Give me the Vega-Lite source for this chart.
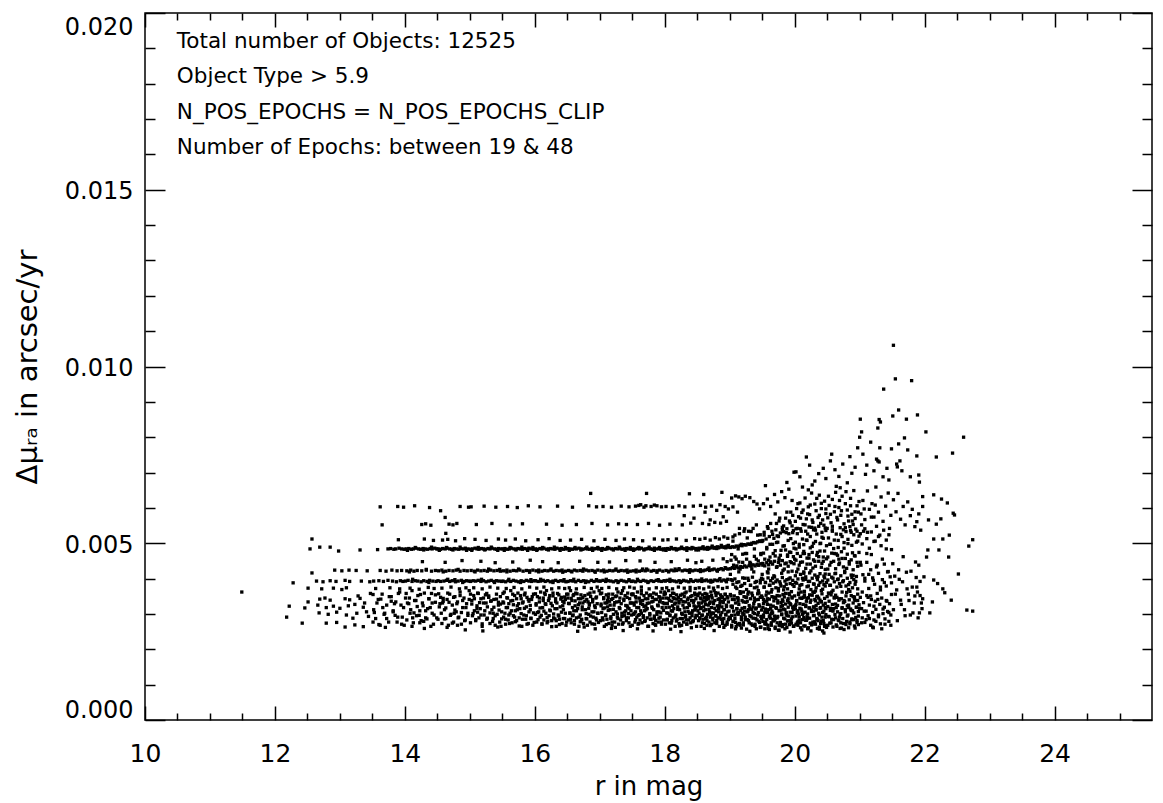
{
"$schema":"https://vega.github.io/schema/vega-lite/v6.json",
"width":1007,"height":707,
"autosize":"none",
"padding":{"left":145,"top":13,"right":11,"bottom":83},
"background":"white",
"config":{"view":{"stroke":"black","strokeWidth":1.5},"font":"DejaVu Sans"},
"datasets":{
"anchor":[{"r":10,"d":0}],
"pts":[
{"r":11.49,"d":0.00362},{"r":12.18,"d":0.00291},{"r":12.22,"d":0.00322},{"r":12.28,"d":0.00388},{"r":12.42,"d":0.00274},{"r":12.46,"d":0.00317},{"r":12.51,"d":0.00334},{"r":12.51,"d":0.00373},{"r":12.57,"d":0.00416},{"r":12.54,"d":0.00484},{"r":12.57,"d":0.00512},{"r":12.69,"d":0.00489},{"r":12.85,"d":0.00489},{"r":12.98,"d":0.00478},{"r":13.31,"d":0.00481},{"r":12.92,"d":0.00424},{"r":13.03,"d":0.00422},{"r":13.14,"d":0.00424},{"r":12.64,"d":0.00393},{"r":12.74,"d":0.00391},{"r":12.85,"d":0.00394},{"r":12.94,"d":0.00392},{"r":13.08,"d":0.00395},{"r":13.15,"d":0.00392},{"r":13.33,"d":0.00393},{"r":13.46,"d":0.00391},{"r":12.72,"d":0.00371},{"r":12.90,"d":0.00373},{"r":13.03,"d":0.00369},{"r":13.10,"d":0.00374},{"r":12.69,"d":0.00342},{"r":12.77,"d":0.00345},{"r":12.85,"d":0.00339},{"r":13.08,"d":0.00343},{"r":13.15,"d":0.00340},{"r":13.31,"d":0.00344},{"r":12.66,"d":0.00325},{"r":12.79,"d":0.00318},{"r":12.90,"d":0.00322},{"r":13.00,"d":0.00316},{"r":13.13,"d":0.00323},{"r":13.23,"d":0.00327},{"r":13.36,"d":0.00319},{"r":12.68,"d":0.00303},{"r":12.82,"d":0.00299},{"r":12.95,"d":0.00305},{"r":13.10,"d":0.00297},{"r":13.26,"d":0.00302},{"r":13.41,"d":0.00306},{"r":12.79,"d":0.00274},{"r":12.95,"d":0.00276},{"r":13.08,"d":0.00263},{"r":13.23,"d":0.00269},{"r":13.36,"d":0.00264},{"r":13.51,"d":0.00277},{"r":13.20,"d":0.00288},{"r":13.28,"d":0.00351},{"r":13.38,"d":0.00331},{"r":13.44,"d":0.00293},{"r":13.47,"d":0.00358},{"r":13.42,"d":0.00422},{"r":13.25,"d":0.00423},
{"r":13.62,"d":0.00603},{"r":13.89,"d":0.00604},{"r":13.98,"d":0.00602},{"r":13.65,"d":0.00552},{"r":13.90,"d":0.00510},{"r":13.74,"d":0.00484},{"r":13.78,"d":0.00485},{"r":13.83,"d":0.00483},{"r":13.86,"d":0.00484},{"r":13.91,"d":0.00486},{"r":13.95,"d":0.00484},{"r":13.99,"d":0.00483},{"r":13.58,"d":0.00482},{"r":13.62,"d":0.00423},{"r":13.71,"d":0.00421},{"r":13.80,"d":0.00424},{"r":13.88,"d":0.00422},{"r":13.95,"d":0.00423},{"r":13.52,"d":0.00393},{"r":13.60,"d":0.00394},{"r":13.67,"d":0.00392},{"r":13.74,"d":0.00395},{"r":13.81,"d":0.00393},{"r":13.87,"d":0.00391},{"r":13.93,"d":0.00394},{"r":13.97,"d":0.00392},{"r":13.55,"d":0.00372},{"r":13.77,"d":0.00374},{"r":13.92,"d":0.00371},{"r":13.51,"d":0.00355},{"r":13.57,"d":0.00331},{"r":13.63,"d":0.00342},{"r":13.66,"d":0.00318},{"r":13.69,"d":0.00302},{"r":13.72,"d":0.00287},{"r":13.76,"d":0.00349},{"r":13.79,"d":0.00336},{"r":13.82,"d":0.00309},{"r":13.85,"d":0.00296},{"r":13.88,"d":0.00277},{"r":13.90,"d":0.00358},{"r":13.94,"d":0.00325},{"r":13.96,"d":0.00291},{"r":13.99,"d":0.00268},{"r":13.60,"d":0.00270},{"r":13.70,"d":0.00262},{"r":13.84,"d":0.00329},{"r":13.53,"d":0.00304},
{"r":14.15,"d":0.00606},{"r":14.38,"d":0.00601},{"r":14.26,"d":0.00553},{"r":14.32,"d":0.00555},{"r":14.40,"d":0.00551},{"r":14.30,"d":0.00512},{"r":14.44,"d":0.00508},{"r":14.02,"d":0.00484},{"r":14.06,"d":0.00485},{"r":14.10,"d":0.00483},{"r":14.13,"d":0.00484},{"r":14.17,"d":0.00486},{"r":14.21,"d":0.00484},{"r":14.24,"d":0.00483},{"r":14.28,"d":0.00485},{"r":14.31,"d":0.00484},{"r":14.35,"d":0.00483},{"r":14.39,"d":0.00485},{"r":14.42,"d":0.00484},{"r":14.46,"d":0.00486},{"r":14.49,"d":0.00484},{"r":14.27,"d":0.00448},{"r":14.03,"d":0.00422},{"r":14.09,"d":0.00424},{"r":14.14,"d":0.00421},{"r":14.19,"d":0.00423},{"r":14.26,"d":0.00422},{"r":14.33,"d":0.00424},{"r":14.41,"d":0.00421},{"r":14.47,"d":0.00423},{"r":14.01,"d":0.00393},{"r":14.05,"d":0.00395},{"r":14.11,"d":0.00392},{"r":14.16,"d":0.00394},{"r":14.20,"d":0.00393},{"r":14.25,"d":0.00391},{"r":14.29,"d":0.00394},{"r":14.34,"d":0.00392},{"r":14.38,"d":0.00395},{"r":14.43,"d":0.00393},{"r":14.48,"d":0.00392},{"r":14.08,"d":0.00373},{"r":14.22,"d":0.00370},{"r":14.36,"d":0.00375},{"r":14.45,"d":0.00372},{"r":14.02,"d":0.00358},{"r":14.04,"d":0.00331},{"r":14.07,"d":0.00345},{"r":14.09,"d":0.00312},{"r":14.12,"d":0.00289},{"r":14.14,"d":0.00303},{"r":14.17,"d":0.00338},{"r":14.19,"d":0.00321},{"r":14.22,"d":0.00296},{"r":14.24,"d":0.00355},{"r":14.27,"d":0.00331},{"r":14.29,"d":0.00279},{"r":14.32,"d":0.00309},{"r":14.34,"d":0.00286},{"r":14.37,"d":0.00343},{"r":14.39,"d":0.00318},{"r":14.42,"d":0.00302},{"r":14.44,"d":0.00271},{"r":14.47,"d":0.00333},{"r":14.49,"d":0.00289},{"r":14.11,"d":0.00265},{"r":14.30,"d":0.00259},{"r":14.41,"d":0.00358},{"r":14.23,"d":0.00275},
{"r":14.85,"d":0.00604},{"r":14.98,"d":0.00602},{"r":14.55,"d":0.00592},{"r":14.62,"d":0.00573},{"r":14.63,"d":0.00528},{"r":14.68,"d":0.00554},{"r":14.74,"d":0.00552},{"r":14.80,"d":0.00556},{"r":14.58,"d":0.00509},{"r":14.66,"d":0.00511},{"r":14.78,"d":0.00507},{"r":14.92,"d":0.00513},{"r":14.51,"d":0.00484},{"r":14.55,"d":0.00483},{"r":14.58,"d":0.00485},{"r":14.62,"d":0.00484},{"r":14.65,"d":0.00486},{"r":14.69,"d":0.00484},{"r":14.72,"d":0.00483},{"r":14.76,"d":0.00485},{"r":14.79,"d":0.00484},{"r":14.83,"d":0.00483},{"r":14.86,"d":0.00485},{"r":14.90,"d":0.00484},{"r":14.93,"d":0.00486},{"r":14.97,"d":0.00484},{"r":14.62,"d":0.00446},{"r":14.88,"d":0.00451},{"r":14.52,"d":0.00422},{"r":14.57,"d":0.00424},{"r":14.63,"d":0.00421},{"r":14.68,"d":0.00423},{"r":14.74,"d":0.00422},{"r":14.79,"d":0.00424},{"r":14.85,"d":0.00421},{"r":14.91,"d":0.00423},{"r":14.96,"d":0.00422},{"r":14.51,"d":0.00394},{"r":14.55,"d":0.00392},{"r":14.60,"d":0.00393},{"r":14.64,"d":0.00395},{"r":14.69,"d":0.00392},{"r":14.73,"d":0.00394},{"r":14.78,"d":0.00391},{"r":14.82,"d":0.00393},{"r":14.87,"d":0.00395},{"r":14.91,"d":0.00392},{"r":14.95,"d":0.00394},{"r":14.99,"d":0.00393},{"r":14.57,"d":0.00373},{"r":14.71,"d":0.00376},{"r":14.84,"d":0.00371},{"r":14.94,"d":0.00374},{"r":14.52,"d":0.00357},{"r":14.54,"d":0.00329},{"r":14.56,"d":0.00302},{"r":14.59,"d":0.00344},{"r":14.61,"d":0.00286},{"r":14.63,"d":0.00317},{"r":14.66,"d":0.00359},{"r":14.68,"d":0.00333},{"r":14.70,"d":0.00296},{"r":14.73,"d":0.00274},{"r":14.75,"d":0.00347},{"r":14.77,"d":0.00311},{"r":14.80,"d":0.00329},{"r":14.82,"d":0.00289},{"r":14.85,"d":0.00352},{"r":14.87,"d":0.00304},{"r":14.89,"d":0.00338},{"r":14.92,"d":0.00281},{"r":14.94,"d":0.00318},{"r":14.97,"d":0.00296},{"r":14.99,"d":0.00341},{"r":14.65,"d":0.00262},{"r":14.81,"d":0.00268},{"r":14.93,"d":0.00255},{"r":14.58,"d":0.00331},{"r":14.76,"d":0.00302},
{"r":15.02,"d":0.00603},{"r":15.22,"d":0.00605},{"r":15.40,"d":0.00602},{"r":15.10,"d":0.00553},{"r":15.34,"d":0.00556},{"r":15.08,"d":0.00511},{"r":15.25,"d":0.00508},{"r":15.44,"d":0.00512},{"r":15.01,"d":0.00483},{"r":15.04,"d":0.00484},{"r":15.08,"d":0.00486},{"r":15.11,"d":0.00484},{"r":15.14,"d":0.00483},{"r":15.18,"d":0.00485},{"r":15.21,"d":0.00484},{"r":15.24,"d":0.00483},{"r":15.28,"d":0.00485},{"r":15.31,"d":0.00484},{"r":15.34,"d":0.00486},{"r":15.38,"d":0.00484},{"r":15.41,"d":0.00483},{"r":15.44,"d":0.00485},{"r":15.48,"d":0.00484},{"r":15.17,"d":0.00449},{"r":15.39,"d":0.00445},{"r":15.02,"d":0.00423},{"r":15.07,"d":0.00421},{"r":15.12,"d":0.00424},{"r":15.17,"d":0.00422},{"r":15.22,"d":0.00423},{"r":15.27,"d":0.00421},{"r":15.32,"d":0.00424},{"r":15.37,"d":0.00422},{"r":15.42,"d":0.00423},{"r":15.47,"d":0.00421},{"r":15.01,"d":0.00392},{"r":15.05,"d":0.00394},{"r":15.09,"d":0.00393},{"r":15.13,"d":0.00395},{"r":15.17,"d":0.00392},{"r":15.21,"d":0.00394},{"r":15.25,"d":0.00391},{"r":15.29,"d":0.00393},{"r":15.33,"d":0.00395},{"r":15.37,"d":0.00392},{"r":15.41,"d":0.00394},{"r":15.45,"d":0.00393},{"r":15.49,"d":0.00392},{"r":15.06,"d":0.00374},{"r":15.19,"d":0.00371},{"r":15.31,"d":0.00376},{"r":15.43,"d":0.00373},{"r":15.01,"d":0.00356},{"r":15.03,"d":0.00328},{"r":15.05,"d":0.00301},{"r":15.07,"d":0.00343},{"r":15.09,"d":0.00284},{"r":15.11,"d":0.00316},{"r":15.13,"d":0.00358},{"r":15.15,"d":0.00332},{"r":15.17,"d":0.00297},{"r":15.19,"d":0.00272},{"r":15.21,"d":0.00345},{"r":15.23,"d":0.00309},{"r":15.25,"d":0.00331},{"r":15.27,"d":0.00288},{"r":15.29,"d":0.00351},{"r":15.31,"d":0.00303},{"r":15.33,"d":0.00337},{"r":15.35,"d":0.00279},{"r":15.37,"d":0.00319},{"r":15.39,"d":0.00295},{"r":15.41,"d":0.00342},{"r":15.43,"d":0.00263},{"r":15.45,"d":0.00311},{"r":15.47,"d":0.00328},{"r":15.49,"d":0.00286},{"r":15.12,"d":0.00305},{"r":15.26,"d":0.00358},{"r":15.36,"d":0.00302},{"r":15.44,"d":0.00333},{"r":15.20,"d":0.00252},{"r":15.48,"d":0.00265},
{"r":15.58,"d":0.00604},{"r":15.73,"d":0.00601},{"r":15.90,"d":0.00606},{"r":15.62,"d":0.00552},{"r":15.81,"d":0.00555},{"r":15.55,"d":0.00509},{"r":15.70,"d":0.00512},{"r":15.86,"d":0.00507},{"r":15.51,"d":0.00484},{"r":15.54,"d":0.00485},{"r":15.58,"d":0.00483},{"r":15.61,"d":0.00484},{"r":15.64,"d":0.00486},{"r":15.68,"d":0.00484},{"r":15.71,"d":0.00483},{"r":15.74,"d":0.00485},{"r":15.78,"d":0.00484},{"r":15.81,"d":0.00483},{"r":15.84,"d":0.00485},{"r":15.88,"d":0.00484},{"r":15.91,"d":0.00486},{"r":15.94,"d":0.00484},{"r":15.98,"d":0.00483},{"r":15.66,"d":0.00447},{"r":15.93,"d":0.00452},{"r":15.52,"d":0.00422},{"r":15.57,"d":0.00424},{"r":15.62,"d":0.00421},{"r":15.67,"d":0.00423},{"r":15.72,"d":0.00422},{"r":15.77,"d":0.00424},{"r":15.82,"d":0.00421},{"r":15.87,"d":0.00423},{"r":15.92,"d":0.00422},{"r":15.97,"d":0.00424},{"r":15.51,"d":0.00393},{"r":15.55,"d":0.00391},{"r":15.59,"d":0.00394},{"r":15.63,"d":0.00392},{"r":15.67,"d":0.00395},{"r":15.71,"d":0.00393},{"r":15.75,"d":0.00391},{"r":15.79,"d":0.00394},{"r":15.83,"d":0.00392},{"r":15.87,"d":0.00395},{"r":15.91,"d":0.00393},{"r":15.95,"d":0.00392},{"r":15.99,"d":0.00394},{"r":15.56,"d":0.00372},{"r":15.68,"d":0.00375},{"r":15.80,"d":0.00371},{"r":15.92,"d":0.00376},{"r":15.51,"d":0.00358},{"r":15.52,"d":0.00331},{"r":15.54,"d":0.00302},{"r":15.55,"d":0.00285},{"r":15.57,"d":0.00346},{"r":15.58,"d":0.00318},{"r":15.60,"d":0.00297},{"r":15.61,"d":0.00273},{"r":15.63,"d":0.00337},{"r":15.64,"d":0.00309},{"r":15.66,"d":0.00356},{"r":15.67,"d":0.00326},{"r":15.69,"d":0.00291},{"r":15.70,"d":0.00278},{"r":15.72,"d":0.00343},{"r":15.73,"d":0.00312},{"r":15.75,"d":0.00329},{"r":15.76,"d":0.00266},{"r":15.78,"d":0.00352},{"r":15.79,"d":0.00301},{"r":15.81,"d":0.00285},{"r":15.82,"d":0.00334},{"r":15.84,"d":0.00316},{"r":15.85,"d":0.00359},{"r":15.87,"d":0.00295},{"r":15.88,"d":0.00271},{"r":15.90,"d":0.00341},{"r":15.91,"d":0.00306},{"r":15.93,"d":0.00324},{"r":15.94,"d":0.00288},{"r":15.96,"d":0.00349},{"r":15.98,"d":0.00303},{"r":15.99,"d":0.00276},
{"r":16.08,"d":0.00603},{"r":16.35,"d":0.00605},{"r":16.18,"d":0.00554},{"r":16.42,"d":0.00551},{"r":16.05,"d":0.00510},{"r":16.22,"d":0.00513},{"r":16.39,"d":0.00508},{"r":16.01,"d":0.00484},{"r":16.04,"d":0.00483},{"r":16.08,"d":0.00485},{"r":16.11,"d":0.00484},{"r":16.14,"d":0.00486},{"r":16.18,"d":0.00483},{"r":16.21,"d":0.00484},{"r":16.24,"d":0.00485},{"r":16.28,"d":0.00484},{"r":16.31,"d":0.00483},{"r":16.34,"d":0.00486},{"r":16.38,"d":0.00484},{"r":16.41,"d":0.00485},{"r":16.44,"d":0.00483},{"r":16.48,"d":0.00484},{"r":16.12,"d":0.00448},{"r":16.36,"d":0.00445},{"r":16.02,"d":0.00422},{"r":16.06,"d":0.00424},{"r":16.11,"d":0.00421},{"r":16.15,"d":0.00423},{"r":16.20,"d":0.00422},{"r":16.24,"d":0.00424},{"r":16.29,"d":0.00421},{"r":16.33,"d":0.00423},{"r":16.38,"d":0.00422},{"r":16.42,"d":0.00424},{"r":16.47,"d":0.00421},{"r":16.01,"d":0.00394},{"r":16.05,"d":0.00392},{"r":16.09,"d":0.00393},{"r":16.13,"d":0.00395},{"r":16.16,"d":0.00392},{"r":16.20,"d":0.00394},{"r":16.24,"d":0.00391},{"r":16.28,"d":0.00393},{"r":16.32,"d":0.00395},{"r":16.36,"d":0.00392},{"r":16.40,"d":0.00394},{"r":16.44,"d":0.00393},{"r":16.48,"d":0.00391},{"r":16.03,"d":0.00373},{"r":16.14,"d":0.00376},{"r":16.26,"d":0.00371},{"r":16.37,"d":0.00374},{"r":16.46,"d":0.00372},{"r":16.01,"d":0.00357},{"r":16.02,"d":0.00329},{"r":16.04,"d":0.00304},{"r":16.05,"d":0.00284},{"r":16.07,"d":0.00345},{"r":16.08,"d":0.00317},{"r":16.10,"d":0.00296},{"r":16.11,"d":0.00272},{"r":16.13,"d":0.00338},{"r":16.14,"d":0.00308},{"r":16.16,"d":0.00355},{"r":16.17,"d":0.00327},{"r":16.19,"d":0.00290},{"r":16.20,"d":0.00279},{"r":16.22,"d":0.00344},{"r":16.23,"d":0.00311},{"r":16.25,"d":0.00330},{"r":16.26,"d":0.00264},{"r":16.28,"d":0.00351},{"r":16.29,"d":0.00300},{"r":16.31,"d":0.00286},{"r":16.32,"d":0.00335},{"r":16.34,"d":0.00315},{"r":16.35,"d":0.00358},{"r":16.37,"d":0.00294},{"r":16.38,"d":0.00270},{"r":16.40,"d":0.00342},{"r":16.41,"d":0.00305},{"r":16.43,"d":0.00323},{"r":16.44,"d":0.00287},{"r":16.46,"d":0.00348},{"r":16.47,"d":0.00302},{"r":16.49,"d":0.00277},{"r":16.15,"d":0.00359},{"r":16.33,"d":0.00281},{"r":16.45,"d":0.00332},
{"r":16.58,"d":0.00602},{"r":16.83,"d":0.00606},{"r":16.95,"d":0.00603},{"r":16.86,"d":0.00641},{"r":16.64,"d":0.00553},{"r":16.88,"d":0.00556},{"r":16.55,"d":0.00509},{"r":16.72,"d":0.00511},{"r":16.91,"d":0.00507},{"r":16.51,"d":0.00485},{"r":16.54,"d":0.00484},{"r":16.58,"d":0.00483},{"r":16.61,"d":0.00485},{"r":16.64,"d":0.00484},{"r":16.68,"d":0.00486},{"r":16.71,"d":0.00484},{"r":16.74,"d":0.00483},{"r":16.78,"d":0.00485},{"r":16.81,"d":0.00484},{"r":16.84,"d":0.00483},{"r":16.88,"d":0.00486},{"r":16.91,"d":0.00484},{"r":16.94,"d":0.00485},{"r":16.98,"d":0.00484},{"r":16.69,"d":0.00449},{"r":16.97,"d":0.00446},{"r":16.52,"d":0.00423},{"r":16.56,"d":0.00421},{"r":16.61,"d":0.00424},{"r":16.65,"d":0.00422},{"r":16.70,"d":0.00423},{"r":16.74,"d":0.00421},{"r":16.79,"d":0.00424},{"r":16.83,"d":0.00422},{"r":16.88,"d":0.00423},{"r":16.92,"d":0.00421},{"r":16.97,"d":0.00424},{"r":16.51,"d":0.00392},{"r":16.55,"d":0.00394},{"r":16.59,"d":0.00393},{"r":16.63,"d":0.00391},{"r":16.67,"d":0.00395},{"r":16.71,"d":0.00392},{"r":16.75,"d":0.00394},{"r":16.79,"d":0.00393},{"r":16.83,"d":0.00391},{"r":16.87,"d":0.00395},{"r":16.91,"d":0.00392},{"r":16.95,"d":0.00394},{"r":16.99,"d":0.00393},{"r":16.53,"d":0.00374},{"r":16.64,"d":0.00371},{"r":16.76,"d":0.00375},{"r":16.87,"d":0.00372},{"r":16.96,"d":0.00376},{"r":16.51,"d":0.00356},{"r":16.52,"d":0.00330},{"r":16.54,"d":0.00303},{"r":16.55,"d":0.00285},{"r":16.56,"d":0.00344},{"r":16.58,"d":0.00318},{"r":16.59,"d":0.00297},{"r":16.61,"d":0.00271},{"r":16.62,"d":0.00337},{"r":16.64,"d":0.00309},{"r":16.65,"d":0.00357},{"r":16.67,"d":0.00326},{"r":16.68,"d":0.00291},{"r":16.70,"d":0.00278},{"r":16.71,"d":0.00343},{"r":16.73,"d":0.00312},{"r":16.74,"d":0.00331},{"r":16.76,"d":0.00263},{"r":16.77,"d":0.00352},{"r":16.79,"d":0.00301},{"r":16.80,"d":0.00286},{"r":16.82,"d":0.00334},{"r":16.83,"d":0.00316},{"r":16.85,"d":0.00359},{"r":16.86,"d":0.00294},{"r":16.88,"d":0.00272},{"r":16.89,"d":0.00341},{"r":16.91,"d":0.00306},{"r":16.92,"d":0.00323},{"r":16.94,"d":0.00288},{"r":16.95,"d":0.00348},{"r":16.97,"d":0.00302},{"r":16.98,"d":0.00276},{"r":16.60,"d":0.00355},{"r":16.72,"d":0.00283},{"r":16.84,"d":0.00329},{"r":16.93,"d":0.00258},{"r":16.66,"d":0.00251},
{"r":17.05,"d":0.00604},{"r":17.18,"d":0.00602},{"r":17.33,"d":0.00605},{"r":17.45,"d":0.00603},{"r":17.12,"d":0.00552},{"r":17.29,"d":0.00555},{"r":17.41,"d":0.00553},{"r":17.08,"d":0.00511},{"r":17.25,"d":0.00508},{"r":17.38,"d":0.00512},{"r":17.01,"d":0.00484},{"r":17.04,"d":0.00485},{"r":17.08,"d":0.00483},{"r":17.11,"d":0.00484},{"r":17.14,"d":0.00486},{"r":17.18,"d":0.00484},{"r":17.21,"d":0.00483},{"r":17.24,"d":0.00485},{"r":17.28,"d":0.00484},{"r":17.31,"d":0.00486},{"r":17.34,"d":0.00483},{"r":17.38,"d":0.00484},{"r":17.41,"d":0.00485},{"r":17.44,"d":0.00484},{"r":17.48,"d":0.00483},{"r":17.15,"d":0.00447},{"r":17.40,"d":0.00451},{"r":17.02,"d":0.00422},{"r":17.06,"d":0.00424},{"r":17.11,"d":0.00421},{"r":17.15,"d":0.00423},{"r":17.20,"d":0.00422},{"r":17.24,"d":0.00424},{"r":17.29,"d":0.00421},{"r":17.33,"d":0.00423},{"r":17.38,"d":0.00422},{"r":17.42,"d":0.00424},{"r":17.47,"d":0.00421},{"r":17.01,"d":0.00393},{"r":17.05,"d":0.00395},{"r":17.09,"d":0.00392},{"r":17.13,"d":0.00394},{"r":17.17,"d":0.00393},{"r":17.21,"d":0.00391},{"r":17.25,"d":0.00394},{"r":17.29,"d":0.00392},{"r":17.33,"d":0.00395},{"r":17.37,"d":0.00393},{"r":17.41,"d":0.00391},{"r":17.45,"d":0.00394},{"r":17.49,"d":0.00392},{"r":17.03,"d":0.00372},{"r":17.14,"d":0.00375},{"r":17.26,"d":0.00371},{"r":17.37,"d":0.00374},{"r":17.46,"d":0.00376},{"r":17.01,"d":0.00357},{"r":17.02,"d":0.00328},{"r":17.03,"d":0.00304},{"r":17.05,"d":0.00283},{"r":17.06,"d":0.00346},{"r":17.07,"d":0.00317},{"r":17.09,"d":0.00295},{"r":17.10,"d":0.00270},{"r":17.12,"d":0.00338},{"r":17.13,"d":0.00310},{"r":17.14,"d":0.00356},{"r":17.16,"d":0.00325},{"r":17.17,"d":0.00292},{"r":17.19,"d":0.00277},{"r":17.20,"d":0.00344},{"r":17.21,"d":0.00313},{"r":17.23,"d":0.00332},{"r":17.24,"d":0.00262},{"r":17.26,"d":0.00351},{"r":17.27,"d":0.00300},{"r":17.28,"d":0.00287},{"r":17.30,"d":0.00335},{"r":17.31,"d":0.00315},{"r":17.33,"d":0.00358},{"r":17.34,"d":0.00293},{"r":17.35,"d":0.00271},{"r":17.37,"d":0.00342},{"r":17.38,"d":0.00305},{"r":17.40,"d":0.00324},{"r":17.41,"d":0.00289},{"r":17.42,"d":0.00347},{"r":17.44,"d":0.00301},{"r":17.45,"d":0.00275},{"r":17.47,"d":0.00331},{"r":17.48,"d":0.00309},{"r":17.49,"d":0.00356},{"r":17.18,"d":0.00259},{"r":17.36,"d":0.00253},{"r":17.11,"d":0.00331},{"r":17.43,"d":0.00319},
{"r":17.55,"d":0.00605},{"r":17.68,"d":0.00602},{"r":17.79,"d":0.00604},{"r":17.88,"d":0.00606},{"r":17.95,"d":0.00603},{"r":17.60,"d":0.00607},{"r":17.63,"d":0.00609},{"r":17.71,"d":0.00606},{"r":17.84,"d":0.00608},{"r":17.72,"d":0.00641},{"r":17.58,"d":0.00553},{"r":17.75,"d":0.00556},{"r":17.92,"d":0.00551},{"r":17.52,"d":0.00510},{"r":17.66,"d":0.00507},{"r":17.84,"d":0.00512},{"r":17.97,"d":0.00509},{"r":17.62,"d":0.00450},{"r":17.85,"d":0.00446},{"r":17.51,"d":0.00484},{"r":17.54,"d":0.00483},{"r":17.58,"d":0.00485},{"r":17.61,"d":0.00484},{"r":17.64,"d":0.00486},{"r":17.68,"d":0.00483},{"r":17.71,"d":0.00484},{"r":17.74,"d":0.00485},{"r":17.78,"d":0.00484},{"r":17.81,"d":0.00483},{"r":17.84,"d":0.00486},{"r":17.88,"d":0.00484},{"r":17.91,"d":0.00485},{"r":17.94,"d":0.00483},{"r":17.98,"d":0.00484},{"r":17.52,"d":0.00422},{"r":17.56,"d":0.00424},{"r":17.61,"d":0.00421},{"r":17.65,"d":0.00423},{"r":17.70,"d":0.00422},{"r":17.74,"d":0.00424},{"r":17.79,"d":0.00421},{"r":17.83,"d":0.00423},{"r":17.88,"d":0.00422},{"r":17.92,"d":0.00424},{"r":17.97,"d":0.00421},{"r":17.51,"d":0.00393},{"r":17.55,"d":0.00391},{"r":17.59,"d":0.00394},{"r":17.63,"d":0.00392},{"r":17.67,"d":0.00395},{"r":17.71,"d":0.00393},{"r":17.75,"d":0.00391},{"r":17.79,"d":0.00394},{"r":17.83,"d":0.00392},{"r":17.87,"d":0.00395},{"r":17.91,"d":0.00393},{"r":17.95,"d":0.00392},{"r":17.99,"d":0.00394},{"r":17.53,"d":0.00373},{"r":17.64,"d":0.00376},{"r":17.76,"d":0.00371},{"r":17.87,"d":0.00374},{"r":17.96,"d":0.00372},{"r":17.51,"d":0.00356},{"r":17.52,"d":0.00331},{"r":17.53,"d":0.00302},{"r":17.55,"d":0.00284},{"r":17.56,"d":0.00345},{"r":17.57,"d":0.00318},{"r":17.59,"d":0.00296},{"r":17.60,"d":0.00273},{"r":17.62,"d":0.00337},{"r":17.63,"d":0.00309},{"r":17.64,"d":0.00357},{"r":17.66,"d":0.00327},{"r":17.67,"d":0.00290},{"r":17.69,"d":0.00279},{"r":17.70,"d":0.00343},{"r":17.71,"d":0.00312},{"r":17.73,"d":0.00330},{"r":17.74,"d":0.00265},{"r":17.76,"d":0.00352},{"r":17.77,"d":0.00301},{"r":17.78,"d":0.00285},{"r":17.80,"d":0.00334},{"r":17.81,"d":0.00316},{"r":17.83,"d":0.00359},{"r":17.84,"d":0.00294},{"r":17.85,"d":0.00271},{"r":17.87,"d":0.00341},{"r":17.88,"d":0.00306},{"r":17.90,"d":0.00323},{"r":17.91,"d":0.00288},{"r":17.92,"d":0.00348},{"r":17.94,"d":0.00303},{"r":17.95,"d":0.00277},{"r":17.97,"d":0.00332},{"r":17.98,"d":0.00310},{"r":17.99,"d":0.00355},{"r":17.58,"d":0.00258},{"r":17.82,"d":0.00252},{"r":17.68,"d":0.00321},{"r":17.93,"d":0.00340},{"r":17.61,"d":0.00298},{"r":17.86,"d":0.00282},
{"r":18.02,"d":0.00604},{"r":18.12,"d":0.00602},{"r":18.22,"d":0.00606},{"r":18.31,"d":0.00603},{"r":18.44,"d":0.00605},{"r":18.38,"d":0.00640},{"r":18.30,"d":0.00578},{"r":18.45,"d":0.00571},{"r":18.08,"d":0.00554},{"r":18.27,"d":0.00552},{"r":18.40,"d":0.00557},{"r":18.05,"d":0.00510},{"r":18.18,"d":0.00512},{"r":18.33,"d":0.00508},{"r":18.46,"d":0.00513},{"r":18.10,"d":0.00448},{"r":18.35,"d":0.00452},{"r":18.48,"d":0.00445},{"r":18.01,"d":0.00484},{"r":18.04,"d":0.00485},{"r":18.07,"d":0.00483},{"r":18.10,"d":0.00486},{"r":18.13,"d":0.00484},{"r":18.16,"d":0.00485},{"r":18.19,"d":0.00483},{"r":18.22,"d":0.00484},{"r":18.25,"d":0.00486},{"r":18.28,"d":0.00485},{"r":18.31,"d":0.00484},{"r":18.34,"d":0.00487},{"r":18.37,"d":0.00485},{"r":18.41,"d":0.00484},{"r":18.44,"d":0.00486},{"r":18.48,"d":0.00485},{"r":18.02,"d":0.00423},{"r":18.06,"d":0.00421},{"r":18.10,"d":0.00424},{"r":18.14,"d":0.00422},{"r":18.18,"d":0.00423},{"r":18.22,"d":0.00425},{"r":18.27,"d":0.00422},{"r":18.31,"d":0.00424},{"r":18.35,"d":0.00423},{"r":18.39,"d":0.00425},{"r":18.43,"d":0.00422},{"r":18.47,"d":0.00424},{"r":18.01,"d":0.00393},{"r":18.04,"d":0.00395},{"r":18.08,"d":0.00392},{"r":18.11,"d":0.00394},{"r":18.15,"d":0.00393},{"r":18.18,"d":0.00391},{"r":18.22,"d":0.00394},{"r":18.26,"d":0.00392},{"r":18.29,"d":0.00395},{"r":18.33,"d":0.00393},{"r":18.37,"d":0.00391},{"r":18.40,"d":0.00394},{"r":18.44,"d":0.00392},{"r":18.48,"d":0.00395},{"r":18.03,"d":0.00374},{"r":18.12,"d":0.00371},{"r":18.21,"d":0.00376},{"r":18.30,"d":0.00373},{"r":18.39,"d":0.00375},{"r":18.47,"d":0.00372},{"r":18.01,"d":0.00357},{"r":18.02,"d":0.00330},{"r":18.03,"d":0.00303},{"r":18.04,"d":0.00285},{"r":18.06,"d":0.00344},{"r":18.07,"d":0.00319},{"r":18.08,"d":0.00297},{"r":18.10,"d":0.00274},{"r":18.11,"d":0.00336},{"r":18.12,"d":0.00308},{"r":18.14,"d":0.00358},{"r":18.15,"d":0.00328},{"r":18.16,"d":0.00292},{"r":18.18,"d":0.00280},{"r":18.19,"d":0.00342},{"r":18.20,"d":0.00313},{"r":18.22,"d":0.00331},{"r":18.23,"d":0.00266},{"r":18.24,"d":0.00353},{"r":18.26,"d":0.00302},{"r":18.27,"d":0.00287},{"r":18.28,"d":0.00335},{"r":18.30,"d":0.00317},{"r":18.31,"d":0.00359},{"r":18.32,"d":0.00295},{"r":18.34,"d":0.00272},{"r":18.35,"d":0.00340},{"r":18.36,"d":0.00307},{"r":18.38,"d":0.00324},{"r":18.39,"d":0.00289},{"r":18.40,"d":0.00349},{"r":18.42,"d":0.00304},{"r":18.43,"d":0.00278},{"r":18.44,"d":0.00333},{"r":18.46,"d":0.00311},{"r":18.47,"d":0.00354},{"r":18.48,"d":0.00296},{"r":18.49,"d":0.00320},{"r":18.09,"d":0.00257},{"r":18.25,"d":0.00250},{"r":18.41,"d":0.00261},{"r":18.13,"d":0.00346},{"r":18.33,"d":0.00283},{"r":18.45,"d":0.00338},
{"r":18.55,"d":0.00607},{"r":18.63,"d":0.00602},{"r":18.72,"d":0.00605},{"r":18.85,"d":0.00609},{"r":18.93,"d":0.00604},{"r":18.60,"d":0.00638},{"r":18.88,"d":0.00644},{"r":18.58,"d":0.00556},{"r":18.68,"d":0.00553},{"r":18.77,"d":0.00559},{"r":18.86,"d":0.00557},{"r":18.95,"d":0.00562},{"r":18.54,"d":0.00511},{"r":18.62,"d":0.00514},{"r":18.70,"d":0.00509},{"r":18.78,"d":0.00516},{"r":18.84,"d":0.00512},{"r":18.91,"d":0.00518},{"r":18.97,"d":0.00514},{"r":18.57,"d":0.00449},{"r":18.74,"d":0.00452},{"r":18.90,"d":0.00456},{"r":18.96,"d":0.00448},{"r":18.62,"d":0.00588},{"r":18.80,"d":0.00593},{"r":18.98,"d":0.00597},{"r":18.70,"d":0.00566},{"r":18.90,"d":0.00575},{"r":19.05,"d":0.00603},{"r":18.51,"d":0.00484},{"r":18.53,"d":0.00486},{"r":18.56,"d":0.00485},{"r":18.58,"d":0.00487},{"r":18.61,"d":0.00484},{"r":18.63,"d":0.00486},{"r":18.66,"d":0.00488},{"r":18.68,"d":0.00485},{"r":18.71,"d":0.00487},{"r":18.73,"d":0.00489},{"r":18.76,"d":0.00486},{"r":18.78,"d":0.00488},{"r":18.81,"d":0.00490},{"r":18.83,"d":0.00487},{"r":18.86,"d":0.00489},{"r":18.88,"d":0.00491},{"r":18.91,"d":0.00488},{"r":18.93,"d":0.00490},{"r":18.96,"d":0.00492},{"r":18.98,"d":0.00489},{"r":18.52,"d":0.00423},{"r":18.55,"d":0.00425},{"r":18.59,"d":0.00422},{"r":18.62,"d":0.00424},{"r":18.66,"d":0.00426},{"r":18.69,"d":0.00423},{"r":18.73,"d":0.00425},{"r":18.76,"d":0.00427},{"r":18.80,"d":0.00424},{"r":18.83,"d":0.00426},{"r":18.87,"d":0.00428},{"r":18.90,"d":0.00425},{"r":18.94,"d":0.00429},{"r":18.97,"d":0.00427},{"r":18.51,"d":0.00393},{"r":18.54,"d":0.00395},{"r":18.57,"d":0.00392},{"r":18.61,"d":0.00394},{"r":18.64,"d":0.00396},{"r":18.67,"d":0.00393},{"r":18.71,"d":0.00395},{"r":18.74,"d":0.00392},{"r":18.77,"d":0.00396},{"r":18.81,"d":0.00394},{"r":18.84,"d":0.00397},{"r":18.87,"d":0.00393},{"r":18.91,"d":0.00396},{"r":18.94,"d":0.00394},{"r":18.97,"d":0.00398},{"r":18.53,"d":0.00374},{"r":18.60,"d":0.00371},{"r":18.68,"d":0.00376},{"r":18.75,"d":0.00373},{"r":18.82,"d":0.00377},{"r":18.89,"d":0.00372},{"r":18.96,"d":0.00375},{"r":18.51,"d":0.00356},{"r":18.52,"d":0.00331},{"r":18.53,"d":0.00302},{"r":18.54,"d":0.00286},{"r":18.55,"d":0.00345},{"r":18.56,"d":0.00318},{"r":18.57,"d":0.00296},{"r":18.58,"d":0.00275},{"r":18.59,"d":0.00337},{"r":18.60,"d":0.00309},{"r":18.62,"d":0.00358},{"r":18.63,"d":0.00327},{"r":18.64,"d":0.00291},{"r":18.65,"d":0.00281},{"r":18.67,"d":0.00343},{"r":18.68,"d":0.00313},{"r":18.69,"d":0.00330},{"r":18.70,"d":0.00267},{"r":18.72,"d":0.00352},{"r":18.73,"d":0.00303},{"r":18.74,"d":0.00288},{"r":18.75,"d":0.00334},{"r":18.77,"d":0.00316},{"r":18.78,"d":0.00360},{"r":18.79,"d":0.00294},{"r":18.80,"d":0.00273},{"r":18.82,"d":0.00341},{"r":18.83,"d":0.00306},{"r":18.84,"d":0.00323},{"r":18.85,"d":0.00289},{"r":18.87,"d":0.00349},{"r":18.88,"d":0.00304},{"r":18.89,"d":0.00279},{"r":18.90,"d":0.00332},{"r":18.92,"d":0.00312},{"r":18.93,"d":0.00355},{"r":18.94,"d":0.00297},{"r":18.95,"d":0.00321},{"r":18.97,"d":0.00345},{"r":18.98,"d":0.00284},{"r":18.99,"d":0.00308},{"r":18.61,"d":0.00259},{"r":18.76,"d":0.00253},{"r":18.91,"d":0.00262},{"r":18.66,"d":0.00348},{"r":18.86,"d":0.00336},{"r":18.71,"d":0.00299},{"r":18.96,"d":0.00271},
{"r":19.03,"d":0.00628},{"r":19.09,"d":0.00634},{"r":19.14,"d":0.00631},{"r":19.19,"d":0.00626},{"r":19.24,"d":0.00633},{"r":19.31,"d":0.00629},{"r":19.37,"d":0.00618},{"r":19.42,"d":0.00611},{"r":19.46,"d":0.00597},{"r":19.12,"d":0.00588},{"r":19.01,"d":0.00488},{"r":19.04,"d":0.00490},{"r":19.07,"d":0.00489},{"r":19.10,"d":0.00492},{"r":19.13,"d":0.00491},{"r":19.16,"d":0.00494},{"r":19.19,"d":0.00493},{"r":19.22,"d":0.00496},{"r":19.25,"d":0.00495},{"r":19.28,"d":0.00498},{"r":19.31,"d":0.00497},{"r":19.34,"d":0.00500},{"r":19.37,"d":0.00502},{"r":19.40,"d":0.00501},{"r":19.43,"d":0.00504},{"r":19.46,"d":0.00506},{"r":19.49,"d":0.00505},{"r":19.27,"d":0.00515},{"r":19.05,"d":0.00518},{"r":19.15,"d":0.00527},{"r":19.23,"d":0.00541},{"r":19.33,"d":0.00533},{"r":19.41,"d":0.00552},{"r":19.47,"d":0.00524},{"r":19.02,"d":0.00452},{"r":19.08,"d":0.00461},{"r":19.14,"d":0.00447},{"r":19.20,"d":0.00469},{"r":19.26,"d":0.00455},{"r":19.32,"d":0.00443},{"r":19.38,"d":0.00463},{"r":19.44,"d":0.00450},{"r":19.48,"d":0.00471},{"r":19.11,"d":0.00436},{"r":19.01,"d":0.00428},{"r":19.04,"d":0.00431},{"r":19.07,"d":0.00429},{"r":19.10,"d":0.00433},{"r":19.13,"d":0.00430},{"r":19.17,"d":0.00434},{"r":19.20,"d":0.00432},{"r":19.23,"d":0.00436},{"r":19.26,"d":0.00433},{"r":19.30,"d":0.00437},{"r":19.33,"d":0.00435},{"r":19.36,"d":0.00439},{"r":19.39,"d":0.00436},{"r":19.42,"d":0.00440},{"r":19.45,"d":0.00438},{"r":19.48,"d":0.00442},{"r":19.02,"d":0.00397},{"r":19.05,"d":0.00384},{"r":19.08,"d":0.00399},{"r":19.11,"d":0.00372},{"r":19.14,"d":0.00391},{"r":19.17,"d":0.00378},{"r":19.20,"d":0.00402},{"r":19.23,"d":0.00386},{"r":19.26,"d":0.00369},{"r":19.29,"d":0.00395},{"r":19.32,"d":0.00381},{"r":19.35,"d":0.00404},{"r":19.38,"d":0.00374},{"r":19.41,"d":0.00392},{"r":19.44,"d":0.00366},{"r":19.47,"d":0.00388},{"r":19.49,"d":0.00401},{"r":19.16,"d":0.00363},{"r":19.01,"d":0.00355},{"r":19.02,"d":0.00322},{"r":19.03,"d":0.00296},{"r":19.04,"d":0.00341},{"r":19.05,"d":0.00279},{"r":19.06,"d":0.00308},{"r":19.07,"d":0.00351},{"r":19.08,"d":0.00287},{"r":19.09,"d":0.00331},{"r":19.10,"d":0.00264},{"r":19.11,"d":0.00315},{"r":19.12,"d":0.00346},{"r":19.13,"d":0.00299},{"r":19.14,"d":0.00327},{"r":19.15,"d":0.00273},{"r":19.16,"d":0.00358},{"r":19.17,"d":0.00310},{"r":19.18,"d":0.00284},{"r":19.19,"d":0.00338},{"r":19.20,"d":0.00302},{"r":19.21,"d":0.00269},{"r":19.22,"d":0.00349},{"r":19.23,"d":0.00318},{"r":19.24,"d":0.00291},{"r":19.25,"d":0.00333},{"r":19.26,"d":0.00257},{"r":19.27,"d":0.00306},{"r":19.28,"d":0.00356},{"r":19.29,"d":0.00281},{"r":19.30,"d":0.00324},{"r":19.31,"d":0.00295},{"r":19.32,"d":0.00343},{"r":19.33,"d":0.00272},{"r":19.34,"d":0.00313},{"r":19.35,"d":0.00352},{"r":19.36,"d":0.00288},{"r":19.37,"d":0.00329},{"r":19.38,"d":0.00301},{"r":19.39,"d":0.00265},{"r":19.40,"d":0.00340},{"r":19.41,"d":0.00317},{"r":19.42,"d":0.00283},{"r":19.43,"d":0.00357},{"r":19.44,"d":0.00304},{"r":19.45,"d":0.00326},{"r":19.46,"d":0.00276},{"r":19.47,"d":0.00347},{"r":19.48,"d":0.00293},{"r":19.49,"d":0.00311},{"r":19.04,"d":0.00318},{"r":19.09,"d":0.00276},{"r":19.13,"d":0.00344},{"r":19.18,"d":0.00260},{"r":19.22,"d":0.00298},{"r":19.27,"d":0.00336},{"r":19.31,"d":0.00251},{"r":19.36,"d":0.00320},{"r":19.40,"d":0.00287},{"r":19.45,"d":0.00359},{"r":19.03,"d":0.00268},{"r":19.12,"d":0.00303},{"r":19.21,"d":0.00334},{"r":19.29,"d":0.00312},{"r":19.38,"d":0.00345},{"r":19.47,"d":0.00262},
{"r":19.52,"d":0.00612},{"r":19.58,"d":0.00625},{"r":19.63,"d":0.00604},{"r":19.69,"d":0.00638},{"r":19.74,"d":0.00617},{"r":19.80,"d":0.00646},{"r":19.85,"d":0.00629},{"r":19.91,"d":0.00653},{"r":19.96,"d":0.00621},{"r":19.55,"d":0.00663},{"r":19.88,"d":0.00672},{"r":19.99,"d":0.00701},{"r":19.51,"d":0.00508},{"r":19.53,"d":0.00531},{"r":19.56,"d":0.00512},{"r":19.58,"d":0.00547},{"r":19.61,"d":0.00519},{"r":19.63,"d":0.00556},{"r":19.66,"d":0.00525},{"r":19.68,"d":0.00514},{"r":19.71,"d":0.00538},{"r":19.73,"d":0.00521},{"r":19.76,"d":0.00563},{"r":19.78,"d":0.00529},{"r":19.81,"d":0.00545},{"r":19.83,"d":0.00533},{"r":19.86,"d":0.00571},{"r":19.88,"d":0.00541},{"r":19.91,"d":0.00527},{"r":19.93,"d":0.00558},{"r":19.96,"d":0.00549},{"r":19.98,"d":0.00536},{"r":19.70,"d":0.00583},{"r":19.94,"d":0.00588},{"r":19.52,"d":0.00472},{"r":19.57,"d":0.00488},{"r":19.62,"d":0.00461},{"r":19.66,"d":0.00497},{"r":19.70,"d":0.00479},{"r":19.74,"d":0.00503},{"r":19.78,"d":0.00466},{"r":19.82,"d":0.00492},{"r":19.86,"d":0.00481},{"r":19.90,"d":0.00508},{"r":19.94,"d":0.00474},{"r":19.98,"d":0.00499},{"r":19.60,"d":0.00452},{"r":19.76,"d":0.00458},{"r":19.89,"d":0.00463},{"r":19.99,"d":0.00486},{"r":19.51,"d":0.00443},{"r":19.54,"d":0.00436},{"r":19.57,"d":0.00445},{"r":19.60,"d":0.00439},{"r":19.63,"d":0.00447},{"r":19.66,"d":0.00441},{"r":19.69,"d":0.00449},{"r":19.72,"d":0.00432},{"r":19.75,"d":0.00446},{"r":19.78,"d":0.00438},{"r":19.81,"d":0.00451},{"r":19.84,"d":0.00427},{"r":19.87,"d":0.00444},{"r":19.90,"d":0.00435},{"r":19.93,"d":0.00448},{"r":19.96,"d":0.00421},{"r":19.99,"d":0.00442},{"r":19.59,"d":0.00416},{"r":19.51,"d":0.00398},{"r":19.53,"d":0.00376},{"r":19.55,"d":0.00389},{"r":19.57,"d":0.00362},{"r":19.59,"d":0.00402},{"r":19.61,"d":0.00381},{"r":19.63,"d":0.00394},{"r":19.65,"d":0.00369},{"r":19.67,"d":0.00387},{"r":19.69,"d":0.00405},{"r":19.71,"d":0.00374},{"r":19.73,"d":0.00396},{"r":19.75,"d":0.00365},{"r":19.77,"d":0.00391},{"r":19.79,"d":0.00379},{"r":19.81,"d":0.00403},{"r":19.83,"d":0.00368},{"r":19.85,"d":0.00393},{"r":19.87,"d":0.00384},{"r":19.89,"d":0.00371},{"r":19.91,"d":0.00399},{"r":19.93,"d":0.00386},{"r":19.95,"d":0.00363},{"r":19.97,"d":0.00395},{"r":19.99,"d":0.00378},{"r":19.50,"d":0.00347},{"r":19.51,"d":0.00318},{"r":19.52,"d":0.00291},{"r":19.53,"d":0.00335},{"r":19.54,"d":0.00272},{"r":19.55,"d":0.00306},{"r":19.56,"d":0.00353},{"r":19.57,"d":0.00284},{"r":19.58,"d":0.00327},{"r":19.59,"d":0.00259},{"r":19.60,"d":0.00312},{"r":19.61,"d":0.00342},{"r":19.62,"d":0.00297},{"r":19.63,"d":0.00325},{"r":19.64,"d":0.00268},{"r":19.65,"d":0.00349},{"r":19.66,"d":0.00303},{"r":19.67,"d":0.00280},{"r":19.68,"d":0.00337},{"r":19.69,"d":0.00294},{"r":19.70,"d":0.00263},{"r":19.71,"d":0.00344},{"r":19.72,"d":0.00316},{"r":19.73,"d":0.00289},{"r":19.74,"d":0.00331},{"r":19.75,"d":0.00254},{"r":19.76,"d":0.00309},{"r":19.77,"d":0.00351},{"r":19.78,"d":0.00276},{"r":19.79,"d":0.00321},{"r":19.80,"d":0.00298},{"r":19.81,"d":0.00340},{"r":19.82,"d":0.00270},{"r":19.83,"d":0.00314},{"r":19.84,"d":0.00348},{"r":19.85,"d":0.00286},{"r":19.86,"d":0.00328},{"r":19.87,"d":0.00300},{"r":19.88,"d":0.00262},{"r":19.89,"d":0.00338},{"r":19.90,"d":0.00319},{"r":19.91,"d":0.00281},{"r":19.92,"d":0.00354},{"r":19.93,"d":0.00305},{"r":19.94,"d":0.00326},{"r":19.95,"d":0.00274},{"r":19.96,"d":0.00345},{"r":19.97,"d":0.00292},{"r":19.98,"d":0.00313},{"r":19.99,"d":0.00266},{"r":19.52,"d":0.00329},{"r":19.55,"d":0.00277},{"r":19.58,"d":0.00343},{"r":19.61,"d":0.00256},{"r":19.64,"d":0.00301},{"r":19.67,"d":0.00322},{"r":19.70,"d":0.00287},{"r":19.73,"d":0.00352},{"r":19.76,"d":0.00268},{"r":19.79,"d":0.00311},{"r":19.82,"d":0.00336},{"r":19.85,"d":0.00258},{"r":19.88,"d":0.00296},{"r":19.91,"d":0.00333},{"r":19.94,"d":0.00279},{"r":19.97,"d":0.00318},{"r":19.54,"d":0.00305},{"r":19.63,"d":0.00288},{"r":19.81,"d":0.00324},{"r":19.93,"d":0.00249},
{"r":20.02,"d":0.00702},{"r":20.08,"d":0.00688},{"r":20.18,"d":0.00744},{"r":20.23,"d":0.00721},{"r":20.31,"d":0.00676},{"r":20.37,"d":0.00697},{"r":20.44,"d":0.00712},{"r":20.12,"d":0.00659},{"r":20.27,"d":0.00665},{"r":20.48,"d":0.00683},{"r":20.01,"d":0.00562},{"r":20.03,"d":0.00598},{"r":20.06,"d":0.00575},{"r":20.08,"d":0.00614},{"r":20.11,"d":0.00587},{"r":20.13,"d":0.00553},{"r":20.16,"d":0.00628},{"r":20.18,"d":0.00569},{"r":20.21,"d":0.00603},{"r":20.23,"d":0.00581},{"r":20.26,"d":0.00642},{"r":20.28,"d":0.00559},{"r":20.31,"d":0.00611},{"r":20.33,"d":0.00592},{"r":20.36,"d":0.00573},{"r":20.38,"d":0.00636},{"r":20.41,"d":0.00598},{"r":20.43,"d":0.00566},{"r":20.46,"d":0.00619},{"r":20.48,"d":0.00584},{"r":20.21,"d":0.00651},{"r":20.40,"d":0.00556},{"r":20.01,"d":0.00503},{"r":20.04,"d":0.00527},{"r":20.07,"d":0.00489},{"r":20.09,"d":0.00541},{"r":20.12,"d":0.00512},{"r":20.14,"d":0.00496},{"r":20.17,"d":0.00534},{"r":20.19,"d":0.00508},{"r":20.22,"d":0.00546},{"r":20.24,"d":0.00519},{"r":20.27,"d":0.00491},{"r":20.29,"d":0.00538},{"r":20.32,"d":0.00505},{"r":20.34,"d":0.00526},{"r":20.37,"d":0.00548},{"r":20.39,"d":0.00499},{"r":20.42,"d":0.00531},{"r":20.44,"d":0.00514},{"r":20.47,"d":0.00543},{"r":20.49,"d":0.00493},{"r":20.02,"d":0.00452},{"r":20.04,"d":0.00471},{"r":20.07,"d":0.00438},{"r":20.09,"d":0.00463},{"r":20.12,"d":0.00447},{"r":20.14,"d":0.00477},{"r":20.17,"d":0.00429},{"r":20.19,"d":0.00458},{"r":20.22,"d":0.00468},{"r":20.24,"d":0.00441},{"r":20.27,"d":0.00474},{"r":20.29,"d":0.00453},{"r":20.32,"d":0.00435},{"r":20.34,"d":0.00466},{"r":20.37,"d":0.00449},{"r":20.39,"d":0.00478},{"r":20.42,"d":0.00443},{"r":20.44,"d":0.00461},{"r":20.47,"d":0.00426},{"r":20.49,"d":0.00456},{"r":20.01,"d":0.00408},{"r":20.03,"d":0.00387},{"r":20.05,"d":0.00399},{"r":20.07,"d":0.00371},{"r":20.09,"d":0.00412},{"r":20.11,"d":0.00383},{"r":20.13,"d":0.00396},{"r":20.15,"d":0.00364},{"r":20.17,"d":0.00405},{"r":20.19,"d":0.00377},{"r":20.21,"d":0.00392},{"r":20.23,"d":0.00416},{"r":20.25,"d":0.00369},{"r":20.27,"d":0.00401},{"r":20.29,"d":0.00385},{"r":20.31,"d":0.00410},{"r":20.33,"d":0.00374},{"r":20.35,"d":0.00397},{"r":20.37,"d":0.00381},{"r":20.39,"d":0.00414},{"r":20.41,"d":0.00366},{"r":20.43,"d":0.00393},{"r":20.45,"d":0.00407},{"r":20.47,"d":0.00379},{"r":20.49,"d":0.00389},{"r":20.14,"d":0.00419},{"r":20.30,"d":0.00361},{"r":20.46,"d":0.00402},{"r":20.00,"d":0.00351},{"r":20.01,"d":0.00323},{"r":20.02,"d":0.00294},{"r":20.03,"d":0.00338},{"r":20.04,"d":0.00275},{"r":20.05,"d":0.00309},{"r":20.06,"d":0.00355},{"r":20.07,"d":0.00283},{"r":20.08,"d":0.00329},{"r":20.09,"d":0.00261},{"r":20.10,"d":0.00314},{"r":20.11,"d":0.00344},{"r":20.12,"d":0.00299},{"r":20.13,"d":0.00327},{"r":20.14,"d":0.00266},{"r":20.15,"d":0.00348},{"r":20.16,"d":0.00305},{"r":20.17,"d":0.00282},{"r":20.18,"d":0.00336},{"r":20.19,"d":0.00292},{"r":20.20,"d":0.00258},{"r":20.21,"d":0.00346},{"r":20.22,"d":0.00317},{"r":20.23,"d":0.00288},{"r":20.24,"d":0.00333},{"r":20.25,"d":0.00252},{"r":20.26,"d":0.00311},{"r":20.27,"d":0.00353},{"r":20.28,"d":0.00277},{"r":20.29,"d":0.00320},{"r":20.30,"d":0.00296},{"r":20.31,"d":0.00341},{"r":20.32,"d":0.00271},{"r":20.33,"d":0.00313},{"r":20.34,"d":0.00349},{"r":20.35,"d":0.00285},{"r":20.36,"d":0.00330},{"r":20.37,"d":0.00302},{"r":20.38,"d":0.00263},{"r":20.39,"d":0.00339},{"r":20.40,"d":0.00318},{"r":20.41,"d":0.00280},{"r":20.42,"d":0.00357},{"r":20.43,"d":0.00304},{"r":20.44,"d":0.00325},{"r":20.45,"d":0.00273},{"r":20.46,"d":0.00344},{"r":20.47,"d":0.00291},{"r":20.48,"d":0.00315},{"r":20.49,"d":0.00267},{"r":20.02,"d":0.00327},{"r":20.05,"d":0.00279},{"r":20.08,"d":0.00345},{"r":20.11,"d":0.00255},{"r":20.14,"d":0.00303},{"r":20.17,"d":0.00321},{"r":20.20,"d":0.00289},{"r":20.23,"d":0.00354},{"r":20.26,"d":0.00269},{"r":20.29,"d":0.00308},{"r":20.32,"d":0.00337},{"r":20.35,"d":0.00259},{"r":20.38,"d":0.00297},{"r":20.41,"d":0.00334},{"r":20.44,"d":0.00281},{"r":20.47,"d":0.00319},{"r":20.06,"d":0.00300},{"r":20.19,"d":0.00286},{"r":20.33,"d":0.00324},{"r":20.45,"d":0.00246},
{"r":20.55,"d":0.00733},{"r":20.57,"d":0.00752},{"r":20.62,"d":0.00708},{"r":20.68,"d":0.00689},{"r":20.74,"d":0.00724},{"r":20.81,"d":0.00671},{"r":20.88,"d":0.00698},{"r":20.93,"d":0.00715},{"r":20.97,"d":0.00770},{"r":20.64,"d":0.00661},{"r":20.85,"d":0.00745},{"r":20.51,"d":0.00572},{"r":20.53,"d":0.00607},{"r":20.56,"d":0.00558},{"r":20.58,"d":0.00624},{"r":20.61,"d":0.00589},{"r":20.63,"d":0.00644},{"r":20.66,"d":0.00566},{"r":20.68,"d":0.00601},{"r":20.71,"d":0.00579},{"r":20.73,"d":0.00633},{"r":20.76,"d":0.00555},{"r":20.78,"d":0.00612},{"r":20.81,"d":0.00594},{"r":20.83,"d":0.00563},{"r":20.86,"d":0.00627},{"r":20.88,"d":0.00582},{"r":20.91,"d":0.00649},{"r":20.93,"d":0.00570},{"r":20.96,"d":0.00606},{"r":20.98,"d":0.00588},{"r":20.70,"d":0.00657},{"r":20.90,"d":0.00553},{"r":20.52,"d":0.00515},{"r":20.55,"d":0.00497},{"r":20.58,"d":0.00538},{"r":20.61,"d":0.00509},{"r":20.64,"d":0.00526},{"r":20.67,"d":0.00488},{"r":20.70,"d":0.00544},{"r":20.73,"d":0.00519},{"r":20.76,"d":0.00502},{"r":20.79,"d":0.00533},{"r":20.82,"d":0.00511},{"r":20.85,"d":0.00547},{"r":20.88,"d":0.00494},{"r":20.91,"d":0.00524},{"r":20.94,"d":0.00540},{"r":20.97,"d":0.00506},{"r":20.60,"d":0.00485},{"r":20.87,"d":0.00531},{"r":20.51,"d":0.00461},{"r":20.54,"d":0.00438},{"r":20.57,"d":0.00472},{"r":20.60,"d":0.00449},{"r":20.63,"d":0.00428},{"r":20.66,"d":0.00466},{"r":20.69,"d":0.00444},{"r":20.72,"d":0.00476},{"r":20.75,"d":0.00433},{"r":20.78,"d":0.00457},{"r":20.81,"d":0.00469},{"r":20.84,"d":0.00441},{"r":20.87,"d":0.00453},{"r":20.90,"d":0.00425},{"r":20.93,"d":0.00464},{"r":20.96,"d":0.00446},{"r":20.99,"d":0.00474},{"r":20.68,"d":0.00455},{"r":20.51,"d":0.00396},{"r":20.53,"d":0.00412},{"r":20.55,"d":0.00381},{"r":20.57,"d":0.00404},{"r":20.59,"d":0.00367},{"r":20.61,"d":0.00391},{"r":20.63,"d":0.00415},{"r":20.65,"d":0.00376},{"r":20.67,"d":0.00399},{"r":20.69,"d":0.00386},{"r":20.71,"d":0.00408},{"r":20.73,"d":0.00362},{"r":20.75,"d":0.00394},{"r":20.77,"d":0.00417},{"r":20.79,"d":0.00379},{"r":20.81,"d":0.00401},{"r":20.83,"d":0.00369},{"r":20.85,"d":0.00389},{"r":20.87,"d":0.00410},{"r":20.89,"d":0.00374},{"r":20.91,"d":0.00397},{"r":20.93,"d":0.00384},{"r":20.95,"d":0.00406},{"r":20.97,"d":0.00371},{"r":20.50,"d":0.00349},{"r":20.51,"d":0.00321},{"r":20.52,"d":0.00293},{"r":20.53,"d":0.00336},{"r":20.54,"d":0.00274},{"r":20.55,"d":0.00310},{"r":20.56,"d":0.00354},{"r":20.57,"d":0.00285},{"r":20.58,"d":0.00327},{"r":20.59,"d":0.00263},{"r":20.60,"d":0.00315},{"r":20.61,"d":0.00345},{"r":20.62,"d":0.00298},{"r":20.63,"d":0.00328},{"r":20.64,"d":0.00269},{"r":20.65,"d":0.00347},{"r":20.66,"d":0.00306},{"r":20.67,"d":0.00283},{"r":20.68,"d":0.00339},{"r":20.69,"d":0.00291},{"r":20.70,"d":0.00259},{"r":20.72,"d":0.00343},{"r":20.73,"d":0.00318},{"r":20.74,"d":0.00287},{"r":20.75,"d":0.00332},{"r":20.76,"d":0.00256},{"r":20.78,"d":0.00312},{"r":20.79,"d":0.00351},{"r":20.80,"d":0.00279},{"r":20.81,"d":0.00323},{"r":20.82,"d":0.00297},{"r":20.84,"d":0.00340},{"r":20.85,"d":0.00272},{"r":20.86,"d":0.00314},{"r":20.87,"d":0.00352},{"r":20.88,"d":0.00284},{"r":20.90,"d":0.00331},{"r":20.91,"d":0.00303},{"r":20.92,"d":0.00266},{"r":20.93,"d":0.00338},{"r":20.95,"d":0.00319},{"r":20.96,"d":0.00281},{"r":20.97,"d":0.00356},{"r":20.98,"d":0.00307},{"r":20.99,"d":0.00326},{"r":20.71,"d":0.00301},{"r":20.77,"d":0.00335},{"r":20.83,"d":0.00261},{"r":20.89,"d":0.00309},{"r":20.94,"d":0.00290},{"r":20.53,"d":0.00358},{"r":20.64,"d":0.00318},{"r":20.71,"d":0.00275},{"r":20.83,"d":0.00325},{"r":20.92,"d":0.00342},{"r":20.98,"d":0.00270},
{"r":21.00,"d":0.00800},{"r":21.01,"d":0.00851},{"r":21.03,"d":0.00815},{"r":21.05,"d":0.00752},{"r":21.09,"d":0.00695},{"r":21.11,"d":0.00721},{"r":21.17,"d":0.00786},{"r":21.22,"d":0.00705},{"r":21.26,"d":0.00738},{"r":21.28,"d":0.00826},{"r":21.28,"d":0.00733},{"r":21.30,"d":0.00850},{"r":21.30,"d":0.00730},{"r":21.31,"d":0.00770},{"r":21.32,"d":0.00843},{"r":21.36,"d":0.00688},{"r":21.37,"d":0.00936},{"r":21.42,"d":0.00712},{"r":21.45,"d":0.00679},{"r":21.49,"d":0.00767},{"r":21.02,"d":0.00583},{"r":21.05,"d":0.00621},{"r":21.08,"d":0.00567},{"r":21.12,"d":0.00648},{"r":21.15,"d":0.00596},{"r":21.19,"d":0.00612},{"r":21.22,"d":0.00574},{"r":21.25,"d":0.00659},{"r":21.29,"d":0.00588},{"r":21.33,"d":0.00631},{"r":21.36,"d":0.00562},{"r":21.40,"d":0.00605},{"r":21.44,"d":0.00642},{"r":21.48,"d":0.00579},{"r":21.01,"d":0.00527},{"r":21.04,"d":0.00498},{"r":21.08,"d":0.00541},{"r":21.11,"d":0.00513},{"r":21.15,"d":0.00486},{"r":21.18,"d":0.00532},{"r":21.22,"d":0.00505},{"r":21.26,"d":0.00548},{"r":21.29,"d":0.00519},{"r":21.33,"d":0.00493},{"r":21.37,"d":0.00537},{"r":21.41,"d":0.00509},{"r":21.45,"d":0.00524},{"r":21.49,"d":0.00482},{"r":21.02,"d":0.00438},{"r":21.05,"d":0.00411},{"r":21.08,"d":0.00393},{"r":21.11,"d":0.00446},{"r":21.14,"d":0.00372},{"r":21.17,"d":0.00425},{"r":21.20,"d":0.00402},{"r":21.23,"d":0.00384},{"r":21.26,"d":0.00433},{"r":21.29,"d":0.00415},{"r":21.32,"d":0.00368},{"r":21.35,"d":0.00397},{"r":21.38,"d":0.00441},{"r":21.41,"d":0.00379},{"r":21.44,"d":0.00420},{"r":21.47,"d":0.00405},{"r":21.49,"d":0.00388},{"r":21.01,"d":0.00347},{"r":21.03,"d":0.00315},{"r":21.04,"d":0.00289},{"r":21.06,"d":0.00332},{"r":21.08,"d":0.00276},{"r":21.10,"d":0.00308},{"r":21.11,"d":0.00352},{"r":21.13,"d":0.00295},{"r":21.15,"d":0.00325},{"r":21.17,"d":0.00268},{"r":21.18,"d":0.00341},{"r":21.20,"d":0.00304},{"r":21.22,"d":0.00283},{"r":21.24,"d":0.00336},{"r":21.25,"d":0.00313},{"r":21.27,"d":0.00358},{"r":21.29,"d":0.00292},{"r":21.31,"d":0.00327},{"r":21.32,"d":0.00272},{"r":21.34,"d":0.00345},{"r":21.36,"d":0.00301},{"r":21.38,"d":0.00319},{"r":21.39,"d":0.00286},{"r":21.41,"d":0.00338},{"r":21.43,"d":0.00307},{"r":21.45,"d":0.00279},{"r":21.46,"d":0.00329},{"r":21.48,"d":0.00297},{"r":21.49,"d":0.00355},{"r":21.21,"d":0.00261},
{"r":21.52,"d":0.01060},{"r":21.55,"d":0.00965},{"r":21.80,"d":0.00960},{"r":21.60,"d":0.00877},{"r":21.51,"d":0.00860},{"r":21.72,"d":0.00851},{"r":21.89,"d":0.00863},{"r":21.69,"d":0.00798},{"r":21.60,"d":0.00781},{"r":21.74,"d":0.00764},{"r":21.88,"d":0.00747},{"r":21.62,"d":0.00733},{"r":21.57,"d":0.00724},{"r":21.58,"d":0.00716},{"r":21.91,"d":0.00693},{"r":21.92,"d":0.00673},{"r":21.97,"d":0.00632},{"r":21.65,"d":0.00705},{"r":21.78,"d":0.00688},{"r":21.52,"d":0.00623},{"r":21.56,"d":0.00589},{"r":21.59,"d":0.00641},{"r":21.63,"d":0.00568},{"r":21.67,"d":0.00604},{"r":21.70,"d":0.00552},{"r":21.74,"d":0.00617},{"r":21.78,"d":0.00578},{"r":21.81,"d":0.00596},{"r":21.85,"d":0.00547},{"r":21.88,"d":0.00561},{"r":21.91,"d":0.00583},{"r":21.94,"d":0.00537},{"r":21.97,"d":0.00604},{"r":21.51,"d":0.00442},{"r":21.54,"d":0.00407},{"r":21.57,"d":0.00368},{"r":21.60,"d":0.00425},{"r":21.63,"d":0.00339},{"r":21.66,"d":0.00391},{"r":21.69,"d":0.00312},{"r":21.72,"d":0.00418},{"r":21.75,"d":0.00356},{"r":21.78,"d":0.00297},{"r":21.81,"d":0.00376},{"r":21.84,"d":0.00331},{"r":21.87,"d":0.00403},{"r":21.90,"d":0.00289},{"r":21.93,"d":0.00352},{"r":21.96,"d":0.00315},{"r":21.91,"d":0.00438},{"r":21.99,"d":0.00405},{"r":21.88,"d":0.00376},{"r":21.85,"d":0.00351},{"r":21.92,"d":0.00303},{"r":21.95,"d":0.00331},
{"r":22.02,"d":0.00815},{"r":22.18,"d":0.00744},{"r":22.43,"d":0.00755},{"r":22.60,"d":0.00800},{"r":22.14,"d":0.00637},{"r":22.26,"d":0.00625},{"r":22.35,"d":0.00614},{"r":22.44,"d":0.00585},{"r":22.06,"d":0.00566},{"r":22.18,"d":0.00554},{"r":22.25,"d":0.00569},{"r":22.14,"d":0.00512},{"r":22.28,"d":0.00512},{"r":22.38,"d":0.00523},{"r":22.22,"d":0.00481},{"r":22.37,"d":0.00461},{"r":22.05,"d":0.00481},{"r":22.03,"d":0.00461},{"r":22.14,"d":0.00396},{"r":22.20,"d":0.00386},{"r":22.28,"d":0.00371},{"r":22.31,"d":0.00360},{"r":22.12,"d":0.00334},{"r":22.08,"d":0.00303},{"r":22.74,"d":0.00510},{"r":22.68,"d":0.00492},{"r":22.52,"d":0.00413},{"r":22.65,"d":0.00311},{"r":22.74,"d":0.00308},{"r":22.46,"d":0.00580},{"r":22.41,"d":0.00339},
{"r":13.52,"d":0.00312},{"r":13.55,"d":0.00287},{"r":13.59,"d":0.00341},{"r":13.62,"d":0.00268},{"r":13.65,"d":0.00356},{"r":13.68,"d":0.00299},{"r":13.72,"d":0.00325},{"r":13.75,"d":0.00277},{"r":13.79,"d":0.00349},{"r":13.82,"d":0.00306},{"r":13.86,"d":0.00334},{"r":13.89,"d":0.00291},{"r":13.92,"d":0.00362},{"r":13.95,"d":0.00271},{"r":13.98,"d":0.00318},
{"r":14.01,"d":0.00345},{"r":14.03,"d":0.00283},{"r":14.06,"d":0.00329},{"r":14.08,"d":0.00302},{"r":14.11,"d":0.00366},{"r":14.13,"d":0.00275},{"r":14.15,"d":0.00338},{"r":14.18,"d":0.00295},{"r":14.20,"d":0.00352},{"r":14.23,"d":0.00309},{"r":14.25,"d":0.00281},{"r":14.28,"d":0.00323},{"r":14.30,"d":0.00359},{"r":14.32,"d":0.00289},{"r":14.35,"d":0.00315},{"r":14.37,"d":0.00343},{"r":14.40,"d":0.00265},{"r":14.42,"d":0.00331},{"r":14.45,"d":0.00297},{"r":14.47,"d":0.00354},{"r":14.04,"d":0.00480},{"r":14.16,"d":0.00488},{"r":14.29,"d":0.00481},{"r":14.41,"d":0.00489},{"r":14.07,"d":0.00419},{"r":14.33,"d":0.00426},{"r":14.12,"d":0.00398},{"r":14.37,"d":0.00389},
{"r":14.51,"d":0.00285},{"r":14.53,"d":0.00320},{"r":14.55,"d":0.00347},{"r":14.57,"d":0.00273},{"r":14.59,"d":0.00336},{"r":14.61,"d":0.00312},{"r":14.63,"d":0.00287},{"r":14.65,"d":0.00341},{"r":14.67,"d":0.00268},{"r":14.69,"d":0.00356},{"r":14.71,"d":0.00299},{"r":14.73,"d":0.00325},{"r":14.75,"d":0.00277},{"r":14.77,"d":0.00349},{"r":14.79,"d":0.00306},{"r":14.81,"d":0.00334},{"r":14.83,"d":0.00291},{"r":14.85,"d":0.00362},{"r":14.87,"d":0.00271},{"r":14.89,"d":0.00318},{"r":14.91,"d":0.00345},{"r":14.93,"d":0.00283},{"r":14.95,"d":0.00329},{"r":14.97,"d":0.00302},{"r":14.99,"d":0.00366},{"r":14.53,"d":0.00480},{"r":14.64,"d":0.00488},{"r":14.74,"d":0.00481},{"r":14.85,"d":0.00489},{"r":14.95,"d":0.00480},{"r":14.59,"d":0.00419},{"r":14.82,"d":0.00426},{"r":14.66,"d":0.00398},{"r":14.89,"d":0.00389},{"r":14.77,"d":0.00397},
{"r":15.01,"d":0.00275},{"r":15.03,"d":0.00338},{"r":15.04,"d":0.00295},{"r":15.06,"d":0.00352},{"r":15.07,"d":0.00309},{"r":15.09,"d":0.00281},{"r":15.11,"d":0.00323},{"r":15.12,"d":0.00359},{"r":15.14,"d":0.00289},{"r":15.16,"d":0.00315},{"r":15.17,"d":0.00343},{"r":15.19,"d":0.00265},{"r":15.21,"d":0.00331},{"r":15.22,"d":0.00297},{"r":15.24,"d":0.00354},{"r":15.26,"d":0.00285},{"r":15.27,"d":0.00320},{"r":15.29,"d":0.00347},{"r":15.31,"d":0.00273},{"r":15.32,"d":0.00336},{"r":15.34,"d":0.00312},{"r":15.36,"d":0.00287},{"r":15.37,"d":0.00341},{"r":15.39,"d":0.00268},{"r":15.41,"d":0.00356},{"r":15.42,"d":0.00299},{"r":15.44,"d":0.00325},{"r":15.46,"d":0.00277},{"r":15.47,"d":0.00349},{"r":15.49,"d":0.00306},{"r":15.03,"d":0.00480},{"r":15.13,"d":0.00488},{"r":15.23,"d":0.00481},{"r":15.33,"d":0.00489},{"r":15.43,"d":0.00480},{"r":15.08,"d":0.00419},{"r":15.29,"d":0.00427},{"r":15.18,"d":0.00398},{"r":15.38,"d":0.00389},{"r":15.46,"d":0.00426},
{"r":15.51,"d":0.00334},{"r":15.52,"d":0.00291},{"r":15.53,"d":0.00362},{"r":15.55,"d":0.00271},{"r":15.56,"d":0.00318},{"r":15.58,"d":0.00345},{"r":15.59,"d":0.00283},{"r":15.60,"d":0.00329},{"r":15.62,"d":0.00302},{"r":15.63,"d":0.00366},{"r":15.65,"d":0.00275},{"r":15.66,"d":0.00338},{"r":15.67,"d":0.00295},{"r":15.69,"d":0.00352},{"r":15.70,"d":0.00309},{"r":15.72,"d":0.00281},{"r":15.73,"d":0.00323},{"r":15.74,"d":0.00359},{"r":15.76,"d":0.00289},{"r":15.77,"d":0.00315},{"r":15.79,"d":0.00343},{"r":15.80,"d":0.00265},{"r":15.81,"d":0.00331},{"r":15.83,"d":0.00297},{"r":15.84,"d":0.00354},{"r":15.86,"d":0.00285},{"r":15.87,"d":0.00320},{"r":15.88,"d":0.00347},{"r":15.90,"d":0.00273},{"r":15.91,"d":0.00336},{"r":15.93,"d":0.00312},{"r":15.94,"d":0.00287},{"r":15.95,"d":0.00341},{"r":15.97,"d":0.00268},{"r":15.98,"d":0.00356},{"r":15.53,"d":0.00480},{"r":15.62,"d":0.00488},{"r":15.71,"d":0.00481},{"r":15.80,"d":0.00489},{"r":15.89,"d":0.00480},{"r":15.97,"d":0.00488},{"r":15.57,"d":0.00419},{"r":15.75,"d":0.00427},{"r":15.92,"d":0.00418},{"r":15.60,"d":0.00398},{"r":15.78,"d":0.00389},{"r":15.94,"d":0.00397},
{"r":16.01,"d":0.00299},{"r":16.02,"d":0.00325},{"r":16.03,"d":0.00277},{"r":16.04,"d":0.00349},{"r":16.06,"d":0.00306},{"r":16.07,"d":0.00334},{"r":16.08,"d":0.00291},{"r":16.09,"d":0.00362},{"r":16.11,"d":0.00271},{"r":16.12,"d":0.00318},{"r":16.13,"d":0.00345},{"r":16.14,"d":0.00283},{"r":16.16,"d":0.00329},{"r":16.17,"d":0.00302},{"r":16.18,"d":0.00366},{"r":16.19,"d":0.00275},{"r":16.21,"d":0.00338},{"r":16.22,"d":0.00295},{"r":16.23,"d":0.00352},{"r":16.24,"d":0.00309},{"r":16.26,"d":0.00281},{"r":16.27,"d":0.00323},{"r":16.28,"d":0.00359},{"r":16.29,"d":0.00289},{"r":16.31,"d":0.00315},{"r":16.32,"d":0.00343},{"r":16.33,"d":0.00265},{"r":16.34,"d":0.00331},{"r":16.36,"d":0.00297},{"r":16.37,"d":0.00354},{"r":16.38,"d":0.00285},{"r":16.39,"d":0.00320},{"r":16.41,"d":0.00347},{"r":16.42,"d":0.00273},{"r":16.43,"d":0.00336},{"r":16.44,"d":0.00312},{"r":16.46,"d":0.00287},{"r":16.47,"d":0.00341},{"r":16.48,"d":0.00268},{"r":16.49,"d":0.00356},{"r":16.03,"d":0.00480},{"r":16.12,"d":0.00488},{"r":16.21,"d":0.00481},{"r":16.30,"d":0.00489},{"r":16.39,"d":0.00480},{"r":16.47,"d":0.00488},{"r":16.06,"d":0.00419},{"r":16.25,"d":0.00427},{"r":16.43,"d":0.00418},{"r":16.09,"d":0.00398},{"r":16.28,"d":0.00389},{"r":16.45,"d":0.00397},
{"r":16.51,"d":0.00345},{"r":16.52,"d":0.00283},{"r":16.53,"d":0.00329},{"r":16.54,"d":0.00302},{"r":16.55,"d":0.00366},{"r":16.56,"d":0.00275},{"r":16.57,"d":0.00338},{"r":16.58,"d":0.00295},{"r":16.59,"d":0.00352},{"r":16.60,"d":0.00309},{"r":16.61,"d":0.00281},{"r":16.62,"d":0.00323},{"r":16.63,"d":0.00359},{"r":16.64,"d":0.00289},{"r":16.66,"d":0.00315},{"r":16.67,"d":0.00343},{"r":16.68,"d":0.00265},{"r":16.69,"d":0.00331},{"r":16.70,"d":0.00297},{"r":16.71,"d":0.00354},{"r":16.72,"d":0.00285},{"r":16.73,"d":0.00320},{"r":16.74,"d":0.00347},{"r":16.75,"d":0.00273},{"r":16.77,"d":0.00336},{"r":16.78,"d":0.00312},{"r":16.79,"d":0.00287},{"r":16.80,"d":0.00341},{"r":16.81,"d":0.00268},{"r":16.82,"d":0.00356},{"r":16.83,"d":0.00299},{"r":16.84,"d":0.00325},{"r":16.85,"d":0.00277},{"r":16.86,"d":0.00349},{"r":16.88,"d":0.00306},{"r":16.89,"d":0.00334},{"r":16.90,"d":0.00291},{"r":16.91,"d":0.00362},{"r":16.92,"d":0.00271},{"r":16.93,"d":0.00318},{"r":16.94,"d":0.00345},{"r":16.95,"d":0.00283},{"r":16.96,"d":0.00329},{"r":16.97,"d":0.00302},{"r":16.99,"d":0.00366},{"r":16.53,"d":0.00480},{"r":16.62,"d":0.00488},{"r":16.71,"d":0.00481},{"r":16.80,"d":0.00489},{"r":16.89,"d":0.00480},{"r":16.97,"d":0.00488},{"r":16.57,"d":0.00419},{"r":16.75,"d":0.00427},{"r":16.93,"d":0.00418},{"r":16.60,"d":0.00398},{"r":16.78,"d":0.00389},{"r":16.95,"d":0.00397},
{"r":17.01,"d":0.00281},{"r":17.02,"d":0.00323},{"r":17.03,"d":0.00359},{"r":17.04,"d":0.00289},{"r":17.05,"d":0.00315},{"r":17.06,"d":0.00343},{"r":17.07,"d":0.00265},{"r":17.08,"d":0.00331},{"r":17.09,"d":0.00297},{"r":17.10,"d":0.00354},{"r":17.11,"d":0.00285},{"r":17.12,"d":0.00320},{"r":17.13,"d":0.00347},{"r":17.14,"d":0.00273},{"r":17.15,"d":0.00336},{"r":17.16,"d":0.00312},{"r":17.17,"d":0.00287},{"r":17.18,"d":0.00341},{"r":17.19,"d":0.00268},{"r":17.20,"d":0.00356},{"r":17.21,"d":0.00299},{"r":17.22,"d":0.00325},{"r":17.23,"d":0.00277},{"r":17.24,"d":0.00349},{"r":17.25,"d":0.00306},{"r":17.26,"d":0.00334},{"r":17.27,"d":0.00291},{"r":17.28,"d":0.00362},{"r":17.29,"d":0.00271},{"r":17.30,"d":0.00318},{"r":17.31,"d":0.00345},{"r":17.32,"d":0.00283},{"r":17.33,"d":0.00329},{"r":17.34,"d":0.00302},{"r":17.35,"d":0.00366},{"r":17.36,"d":0.00275},{"r":17.37,"d":0.00338},{"r":17.38,"d":0.00295},{"r":17.39,"d":0.00352},{"r":17.40,"d":0.00309},{"r":17.41,"d":0.00281},{"r":17.42,"d":0.00323},{"r":17.43,"d":0.00359},{"r":17.44,"d":0.00289},{"r":17.45,"d":0.00315},{"r":17.46,"d":0.00343},{"r":17.47,"d":0.00265},{"r":17.48,"d":0.00331},{"r":17.49,"d":0.00297},{"r":17.50,"d":0.00354},{"r":17.03,"d":0.00480},{"r":17.12,"d":0.00488},{"r":17.21,"d":0.00481},{"r":17.30,"d":0.00489},{"r":17.39,"d":0.00480},{"r":17.47,"d":0.00488},{"r":17.07,"d":0.00419},{"r":17.25,"d":0.00427},{"r":17.43,"d":0.00418},{"r":17.10,"d":0.00398},{"r":17.28,"d":0.00389},{"r":17.45,"d":0.00397},
{"r":17.50,"d":0.00268},{"r":17.51,"d":0.00356},{"r":17.52,"d":0.00299},{"r":17.53,"d":0.00325},{"r":17.54,"d":0.00277},{"r":17.55,"d":0.00349},{"r":17.55,"d":0.00306},{"r":17.56,"d":0.00334},{"r":17.57,"d":0.00291},{"r":17.58,"d":0.00362},{"r":17.59,"d":0.00271},{"r":17.60,"d":0.00318},{"r":17.61,"d":0.00345},{"r":17.62,"d":0.00283},{"r":17.63,"d":0.00329},{"r":17.64,"d":0.00302},{"r":17.64,"d":0.00366},{"r":17.65,"d":0.00275},{"r":17.66,"d":0.00338},{"r":17.67,"d":0.00295},{"r":17.68,"d":0.00352},{"r":17.69,"d":0.00309},{"r":17.70,"d":0.00281},{"r":17.71,"d":0.00323},{"r":17.72,"d":0.00359},{"r":17.73,"d":0.00289},{"r":17.73,"d":0.00315},{"r":17.74,"d":0.00343},{"r":17.75,"d":0.00265},{"r":17.76,"d":0.00331},{"r":17.77,"d":0.00297},{"r":17.78,"d":0.00354},{"r":17.79,"d":0.00285},{"r":17.80,"d":0.00320},{"r":17.81,"d":0.00347},{"r":17.82,"d":0.00273},{"r":17.82,"d":0.00336},{"r":17.83,"d":0.00312},{"r":17.84,"d":0.00287},{"r":17.85,"d":0.00341},{"r":17.86,"d":0.00268},{"r":17.87,"d":0.00356},{"r":17.88,"d":0.00299},{"r":17.89,"d":0.00325},{"r":17.90,"d":0.00277},{"r":17.91,"d":0.00349},{"r":17.91,"d":0.00306},{"r":17.92,"d":0.00334},{"r":17.93,"d":0.00291},{"r":17.94,"d":0.00362},{"r":17.95,"d":0.00271},{"r":17.96,"d":0.00318},{"r":17.97,"d":0.00345},{"r":17.98,"d":0.00283},{"r":17.99,"d":0.00329},{"r":17.52,"d":0.00480},{"r":17.60,"d":0.00488},{"r":17.68,"d":0.00481},{"r":17.76,"d":0.00489},{"r":17.84,"d":0.00480},{"r":17.92,"d":0.00488},{"r":17.98,"d":0.00481},{"r":17.56,"d":0.00419},{"r":17.72,"d":0.00427},{"r":17.88,"d":0.00418},{"r":17.58,"d":0.00398},{"r":17.74,"d":0.00389},{"r":17.90,"d":0.00397},{"r":17.66,"d":0.00427},
{"r":18.00,"d":0.00362},{"r":18.01,"d":0.00271},{"r":18.02,"d":0.00318},{"r":18.02,"d":0.00345},{"r":18.03,"d":0.00283},{"r":18.04,"d":0.00329},{"r":18.05,"d":0.00302},{"r":18.06,"d":0.00366},{"r":18.07,"d":0.00275},{"r":18.07,"d":0.00338},{"r":18.08,"d":0.00295},{"r":18.09,"d":0.00352},{"r":18.10,"d":0.00309},{"r":18.11,"d":0.00281},{"r":18.12,"d":0.00323},{"r":18.12,"d":0.00359},{"r":18.13,"d":0.00289},{"r":18.14,"d":0.00315},{"r":18.15,"d":0.00343},{"r":18.16,"d":0.00265},{"r":18.17,"d":0.00331},{"r":18.17,"d":0.00297},{"r":18.18,"d":0.00354},{"r":18.19,"d":0.00285},{"r":18.20,"d":0.00320},{"r":18.21,"d":0.00347},{"r":18.22,"d":0.00273},{"r":18.22,"d":0.00336},{"r":18.23,"d":0.00312},{"r":18.24,"d":0.00287},{"r":18.25,"d":0.00341},{"r":18.26,"d":0.00268},{"r":18.27,"d":0.00356},{"r":18.27,"d":0.00299},{"r":18.28,"d":0.00325},{"r":18.29,"d":0.00277},{"r":18.30,"d":0.00349},{"r":18.31,"d":0.00306},{"r":18.32,"d":0.00334},{"r":18.32,"d":0.00291},{"r":18.33,"d":0.00362},{"r":18.34,"d":0.00271},{"r":18.35,"d":0.00318},{"r":18.36,"d":0.00345},{"r":18.37,"d":0.00283},{"r":18.37,"d":0.00329},{"r":18.38,"d":0.00302},{"r":18.39,"d":0.00366},{"r":18.40,"d":0.00275},{"r":18.41,"d":0.00338},{"r":18.42,"d":0.00295},{"r":18.42,"d":0.00352},{"r":18.43,"d":0.00309},{"r":18.44,"d":0.00281},{"r":18.45,"d":0.00323},{"r":18.46,"d":0.00359},{"r":18.47,"d":0.00289},{"r":18.47,"d":0.00315},{"r":18.48,"d":0.00343},{"r":18.49,"d":0.00265},{"r":18.02,"d":0.00480},{"r":18.10,"d":0.00488},{"r":18.18,"d":0.00481},{"r":18.26,"d":0.00489},{"r":18.34,"d":0.00480},{"r":18.42,"d":0.00488},{"r":18.48,"d":0.00481},{"r":18.06,"d":0.00419},{"r":18.22,"d":0.00428},{"r":18.38,"d":0.00418},{"r":18.08,"d":0.00398},{"r":18.24,"d":0.00389},{"r":18.40,"d":0.00397},{"r":18.16,"d":0.00427},
{"r":18.50,"d":0.00295},{"r":18.51,"d":0.00352},{"r":18.51,"d":0.00309},{"r":18.52,"d":0.00281},{"r":18.53,"d":0.00323},{"r":18.54,"d":0.00359},{"r":18.54,"d":0.00289},{"r":18.55,"d":0.00315},{"r":18.56,"d":0.00343},{"r":18.56,"d":0.00265},{"r":18.57,"d":0.00331},{"r":18.58,"d":0.00297},{"r":18.58,"d":0.00354},{"r":18.59,"d":0.00285},{"r":18.60,"d":0.00320},{"r":18.61,"d":0.00347},{"r":18.61,"d":0.00273},{"r":18.62,"d":0.00336},{"r":18.63,"d":0.00312},{"r":18.63,"d":0.00287},{"r":18.64,"d":0.00341},{"r":18.65,"d":0.00268},{"r":18.65,"d":0.00356},{"r":18.66,"d":0.00299},{"r":18.67,"d":0.00325},{"r":18.68,"d":0.00277},{"r":18.68,"d":0.00349},{"r":18.69,"d":0.00306},{"r":18.70,"d":0.00334},{"r":18.70,"d":0.00291},{"r":18.71,"d":0.00362},{"r":18.72,"d":0.00271},{"r":18.72,"d":0.00318},{"r":18.73,"d":0.00345},{"r":18.74,"d":0.00283},{"r":18.75,"d":0.00329},{"r":18.75,"d":0.00302},{"r":18.76,"d":0.00366},{"r":18.77,"d":0.00275},{"r":18.77,"d":0.00338},{"r":18.78,"d":0.00295},{"r":18.79,"d":0.00352},{"r":18.79,"d":0.00309},{"r":18.80,"d":0.00281},{"r":18.81,"d":0.00323},{"r":18.82,"d":0.00359},{"r":18.82,"d":0.00289},{"r":18.83,"d":0.00315},{"r":18.84,"d":0.00343},{"r":18.84,"d":0.00265},{"r":18.85,"d":0.00331},{"r":18.86,"d":0.00297},{"r":18.86,"d":0.00354},{"r":18.87,"d":0.00285},{"r":18.88,"d":0.00320},{"r":18.89,"d":0.00347},{"r":18.89,"d":0.00273},{"r":18.90,"d":0.00336},{"r":18.91,"d":0.00312},{"r":18.91,"d":0.00287},{"r":18.92,"d":0.00341},{"r":18.93,"d":0.00268},{"r":18.93,"d":0.00356},{"r":18.94,"d":0.00299},{"r":18.95,"d":0.00325},{"r":18.96,"d":0.00277},{"r":18.96,"d":0.00349},{"r":18.97,"d":0.00306},{"r":18.98,"d":0.00334},{"r":18.99,"d":0.00291},{"r":18.52,"d":0.00481},{"r":18.59,"d":0.00490},{"r":18.66,"d":0.00483},{"r":18.73,"d":0.00492},{"r":18.80,"d":0.00485},{"r":18.87,"d":0.00494},{"r":18.94,"d":0.00487},{"r":18.98,"d":0.00494},{"r":18.55,"d":0.00420},{"r":18.68,"d":0.00430},{"r":18.81,"d":0.00421},{"r":18.93,"d":0.00431},{"r":18.57,"d":0.00399},{"r":18.71,"d":0.00390},{"r":18.85,"d":0.00400},{"r":18.95,"d":0.00391},
{"r":19.01,"d":0.00412},{"r":19.01,"d":0.00287},{"r":19.02,"d":0.00351},{"r":19.03,"d":0.00468},{"r":19.03,"d":0.00263},{"r":19.04,"d":0.00395},{"r":19.04,"d":0.00322},{"r":19.05,"d":0.00506},{"r":19.06,"d":0.00279},{"r":19.06,"d":0.00438},{"r":19.07,"d":0.00341},{"r":19.08,"d":0.00297},{"r":19.08,"d":0.00523},{"r":19.09,"d":0.00376},{"r":19.09,"d":0.00258},{"r":19.10,"d":0.00455},{"r":19.11,"d":0.00314},{"r":19.11,"d":0.00389},{"r":19.12,"d":0.00271},{"r":19.13,"d":0.00484},{"r":19.13,"d":0.00336},{"r":19.14,"d":0.00419},{"r":19.14,"d":0.00304},{"r":19.15,"d":0.00542},{"r":19.16,"d":0.00268},{"r":19.16,"d":0.00427},{"r":19.17,"d":0.00359},{"r":19.18,"d":0.00292},{"r":19.18,"d":0.00497},{"r":19.19,"d":0.00381},{"r":19.19,"d":0.00316},{"r":19.20,"d":0.00446},{"r":19.21,"d":0.00275},{"r":19.21,"d":0.00362},{"r":19.22,"d":0.00534},{"r":19.23,"d":0.00308},{"r":19.23,"d":0.00401},{"r":19.24,"d":0.00284},{"r":19.24,"d":0.00471},{"r":19.25,"d":0.00347},
{"r":19.26,"d":0.00347},{"r":19.26,"d":0.00471},{"r":19.27,"d":0.00284},{"r":19.28,"d":0.00401},{"r":19.28,"d":0.00308},{"r":19.29,"d":0.00534},{"r":19.29,"d":0.00362},{"r":19.30,"d":0.00275},{"r":19.31,"d":0.00446},{"r":19.31,"d":0.00316},{"r":19.32,"d":0.00381},{"r":19.33,"d":0.00497},{"r":19.33,"d":0.00292},{"r":19.34,"d":0.00359},{"r":19.34,"d":0.00427},{"r":19.35,"d":0.00268},{"r":19.36,"d":0.00542},{"r":19.36,"d":0.00304},{"r":19.37,"d":0.00419},{"r":19.38,"d":0.00336},{"r":19.38,"d":0.00484},{"r":19.39,"d":0.00271},{"r":19.39,"d":0.00389},{"r":19.40,"d":0.00314},{"r":19.41,"d":0.00455},{"r":19.41,"d":0.00258},{"r":19.42,"d":0.00376},{"r":19.43,"d":0.00523},{"r":19.43,"d":0.00297},{"r":19.44,"d":0.00341},{"r":19.44,"d":0.00438},{"r":19.45,"d":0.00279},{"r":19.46,"d":0.00506},{"r":19.46,"d":0.00322},{"r":19.47,"d":0.00395},{"r":19.48,"d":0.00263},{"r":19.48,"d":0.00468},{"r":19.49,"d":0.00351},{"r":19.49,"d":0.00287},{"r":19.50,"d":0.00412},
{"r":19.50,"d":0.00506},{"r":19.51,"d":0.00279},{"r":19.51,"d":0.00438},{"r":19.52,"d":0.00341},{"r":19.52,"d":0.00297},{"r":19.53,"d":0.00523},{"r":19.53,"d":0.00376},{"r":19.54,"d":0.00258},{"r":19.54,"d":0.00455},{"r":19.55,"d":0.00314},{"r":19.55,"d":0.00389},{"r":19.56,"d":0.00271},{"r":19.57,"d":0.00484},{"r":19.57,"d":0.00336},{"r":19.58,"d":0.00419},{"r":19.58,"d":0.00304},{"r":19.59,"d":0.00542},{"r":19.59,"d":0.00268},{"r":19.60,"d":0.00427},{"r":19.60,"d":0.00359},{"r":19.61,"d":0.00292},{"r":19.62,"d":0.00497},{"r":19.62,"d":0.00381},{"r":19.63,"d":0.00316},{"r":19.63,"d":0.00446},{"r":19.64,"d":0.00275},{"r":19.64,"d":0.00362},{"r":19.65,"d":0.00534},{"r":19.65,"d":0.00308},{"r":19.66,"d":0.00401},{"r":19.67,"d":0.00284},{"r":19.67,"d":0.00471},{"r":19.68,"d":0.00347},{"r":19.68,"d":0.00408},{"r":19.69,"d":0.00283},{"r":19.69,"d":0.00347},{"r":19.70,"d":0.00464},{"r":19.70,"d":0.00259},{"r":19.71,"d":0.00391},{"r":19.71,"d":0.00318},{"r":19.72,"d":0.00502},{"r":19.73,"d":0.00275},{"r":19.73,"d":0.00434},{"r":19.74,"d":0.00337},{"r":19.74,"d":0.00293},{"r":19.75,"d":0.00519},{"r":19.75,"d":0.00372},{"r":19.76,"d":0.00254},{"r":19.76,"d":0.00451},{"r":19.77,"d":0.00310},{"r":19.78,"d":0.00385},{"r":19.78,"d":0.00267},{"r":19.79,"d":0.00480},{"r":19.79,"d":0.00332},{"r":19.80,"d":0.00415},{"r":19.80,"d":0.00300},{"r":19.81,"d":0.00538},{"r":19.81,"d":0.00264},{"r":19.82,"d":0.00423},{"r":19.82,"d":0.00355},{"r":19.83,"d":0.00288},{"r":19.84,"d":0.00493},{"r":19.84,"d":0.00377},{"r":19.85,"d":0.00312},{"r":19.85,"d":0.00442},{"r":19.86,"d":0.00271},{"r":19.86,"d":0.00358},{"r":19.87,"d":0.00530},{"r":19.87,"d":0.00304},{"r":19.88,"d":0.00397},{"r":19.89,"d":0.00280},{"r":19.89,"d":0.00467},{"r":19.90,"d":0.00343},{"r":19.90,"d":0.00419},{"r":19.91,"d":0.00294},{"r":19.91,"d":0.00358},{"r":19.92,"d":0.00475},{"r":19.92,"d":0.00270},{"r":19.93,"d":0.00402},{"r":19.93,"d":0.00329},{"r":19.94,"d":0.00513},{"r":19.95,"d":0.00286},{"r":19.95,"d":0.00445},{"r":19.96,"d":0.00348},{"r":19.96,"d":0.00304},{"r":19.97,"d":0.00530},{"r":19.97,"d":0.00383},{"r":19.98,"d":0.00265},{"r":19.98,"d":0.00462},{"r":19.99,"d":0.00321},
{"r":20.00,"d":0.00455},{"r":20.01,"d":0.00314},{"r":20.01,"d":0.00389},{"r":20.02,"d":0.00271},{"r":20.02,"d":0.00484},{"r":20.03,"d":0.00336},{"r":20.03,"d":0.00419},{"r":20.04,"d":0.00304},{"r":20.04,"d":0.00542},{"r":20.05,"d":0.00268},{"r":20.05,"d":0.00427},{"r":20.06,"d":0.00359},{"r":20.07,"d":0.00292},{"r":20.07,"d":0.00497},{"r":20.08,"d":0.00381},{"r":20.08,"d":0.00316},{"r":20.09,"d":0.00446},{"r":20.09,"d":0.00275},{"r":20.10,"d":0.00362},{"r":20.10,"d":0.00534},{"r":20.11,"d":0.00308},{"r":20.12,"d":0.00401},{"r":20.12,"d":0.00284},{"r":20.13,"d":0.00471},{"r":20.13,"d":0.00347},{"r":20.14,"d":0.00415},{"r":20.14,"d":0.00290},{"r":20.15,"d":0.00354},{"r":20.15,"d":0.00471},{"r":20.16,"d":0.00266},{"r":20.17,"d":0.00398},{"r":20.17,"d":0.00325},{"r":20.18,"d":0.00509},{"r":20.18,"d":0.00282},{"r":20.19,"d":0.00441},{"r":20.19,"d":0.00344},{"r":20.20,"d":0.00300},{"r":20.20,"d":0.00526},{"r":20.21,"d":0.00379},{"r":20.21,"d":0.00261},{"r":20.22,"d":0.00458},{"r":20.23,"d":0.00317},{"r":20.23,"d":0.00392},{"r":20.24,"d":0.00274},{"r":20.24,"d":0.00487},{"r":20.25,"d":0.00339},{"r":20.25,"d":0.00422},{"r":20.26,"d":0.00307},{"r":20.26,"d":0.00545},{"r":20.27,"d":0.00271},{"r":20.28,"d":0.00430},{"r":20.28,"d":0.00362},{"r":20.29,"d":0.00295},{"r":20.29,"d":0.00500},{"r":20.30,"d":0.00384},{"r":20.30,"d":0.00319},{"r":20.31,"d":0.00449},{"r":20.31,"d":0.00278},{"r":20.32,"d":0.00365},{"r":20.32,"d":0.00537},{"r":20.33,"d":0.00311},{"r":20.34,"d":0.00404},{"r":20.34,"d":0.00287},{"r":20.35,"d":0.00474},{"r":20.35,"d":0.00350},{"r":20.36,"d":0.00406},{"r":20.36,"d":0.00281},{"r":20.37,"d":0.00345},{"r":20.37,"d":0.00462},{"r":20.38,"d":0.00257},{"r":20.39,"d":0.00389},{"r":20.39,"d":0.00316},{"r":20.40,"d":0.00500},{"r":20.40,"d":0.00273},{"r":20.41,"d":0.00432},{"r":20.41,"d":0.00335},{"r":20.42,"d":0.00291},{"r":20.42,"d":0.00517},{"r":20.43,"d":0.00370},{"r":20.43,"d":0.00252},{"r":20.44,"d":0.00449},{"r":20.45,"d":0.00308},{"r":20.45,"d":0.00383},{"r":20.46,"d":0.00265},{"r":20.46,"d":0.00478},{"r":20.47,"d":0.00330},{"r":20.47,"d":0.00413},{"r":20.48,"d":0.00298},{"r":20.48,"d":0.00536},{"r":20.49,"d":0.00262},
{"r":20.50,"d":0.00542},{"r":20.51,"d":0.00268},{"r":20.51,"d":0.00427},{"r":20.52,"d":0.00359},{"r":20.53,"d":0.00292},{"r":20.54,"d":0.00497},{"r":20.54,"d":0.00381},{"r":20.55,"d":0.00316},{"r":20.56,"d":0.00446},{"r":20.56,"d":0.00275},{"r":20.57,"d":0.00362},{"r":20.58,"d":0.00534},{"r":20.59,"d":0.00308},{"r":20.59,"d":0.00401},{"r":20.60,"d":0.00284},{"r":20.61,"d":0.00471},{"r":20.61,"d":0.00347},{"r":20.62,"d":0.00414},{"r":20.63,"d":0.00289},{"r":20.63,"d":0.00353},{"r":20.64,"d":0.00470},{"r":20.65,"d":0.00265},{"r":20.66,"d":0.00397},{"r":20.66,"d":0.00324},{"r":20.67,"d":0.00508},{"r":20.68,"d":0.00281},{"r":20.68,"d":0.00440},{"r":20.69,"d":0.00343},{"r":20.70,"d":0.00299},{"r":20.71,"d":0.00525},{"r":20.71,"d":0.00378},{"r":20.72,"d":0.00260},{"r":20.73,"d":0.00457},{"r":20.73,"d":0.00316},{"r":20.74,"d":0.00391},{"r":20.75,"d":0.00273},{"r":20.76,"d":0.00486},{"r":20.76,"d":0.00338},{"r":20.77,"d":0.00421},{"r":20.78,"d":0.00306},{"r":20.78,"d":0.00544},{"r":20.79,"d":0.00270},{"r":20.80,"d":0.00429},{"r":20.80,"d":0.00361},{"r":20.81,"d":0.00294},{"r":20.82,"d":0.00499},{"r":20.83,"d":0.00383},{"r":20.83,"d":0.00318},{"r":20.84,"d":0.00448},{"r":20.85,"d":0.00277},{"r":20.85,"d":0.00364},{"r":20.86,"d":0.00536},{"r":20.87,"d":0.00310},{"r":20.88,"d":0.00403},{"r":20.88,"d":0.00286},{"r":20.89,"d":0.00473},{"r":20.90,"d":0.00349},{"r":20.90,"d":0.00409},{"r":20.91,"d":0.00284},{"r":20.92,"d":0.00348},{"r":20.92,"d":0.00465},{"r":20.93,"d":0.00260},{"r":20.94,"d":0.00392},{"r":20.95,"d":0.00319},{"r":20.95,"d":0.00503},{"r":20.96,"d":0.00276},{"r":20.97,"d":0.00435},{"r":20.97,"d":0.00338},{"r":20.98,"d":0.00294},{"r":20.99,"d":0.00520},
{"r":21.00,"d":0.00316},{"r":21.01,"d":0.00446},{"r":21.03,"d":0.00275},{"r":21.04,"d":0.00362},{"r":21.06,"d":0.00534},{"r":21.07,"d":0.00308},{"r":21.08,"d":0.00401},{"r":21.10,"d":0.00284},{"r":21.11,"d":0.00471},{"r":21.13,"d":0.00347},{"r":21.14,"d":0.00412},{"r":21.15,"d":0.00287},{"r":21.17,"d":0.00351},{"r":21.18,"d":0.00468},{"r":21.20,"d":0.00263},{"r":21.21,"d":0.00395},{"r":21.22,"d":0.00322},{"r":21.24,"d":0.00506},{"r":21.25,"d":0.00279},{"r":21.27,"d":0.00438},{"r":21.28,"d":0.00341},{"r":21.29,"d":0.00297},{"r":21.31,"d":0.00523},{"r":21.32,"d":0.00376},{"r":21.34,"d":0.00258},{"r":21.35,"d":0.00455},{"r":21.36,"d":0.00314},{"r":21.38,"d":0.00389},{"r":21.39,"d":0.00271},{"r":21.41,"d":0.00484},{"r":21.42,"d":0.00336},{"r":21.43,"d":0.00419},{"r":21.45,"d":0.00304},{"r":21.46,"d":0.00542},{"r":21.48,"d":0.00268},
{"r":21.52,"d":0.00312},{"r":21.55,"d":0.00356},{"r":21.58,"d":0.00281},{"r":21.61,"d":0.00398},{"r":21.64,"d":0.00327},{"r":21.67,"d":0.00462},{"r":21.70,"d":0.00295},{"r":21.73,"d":0.00371},{"r":21.76,"d":0.00338},{"r":21.79,"d":0.00421},{"r":21.82,"d":0.00303},{"r":21.86,"d":0.00447},{"r":21.89,"d":0.00362},{"r":21.93,"d":0.00392},{"r":21.97,"d":0.00343},
{"r":19.72,"d":0.00556},{"r":19.77,"d":0.00571},{"r":19.83,"d":0.00549},{"r":19.88,"d":0.00588},{"r":19.92,"d":0.00563},{"r":19.97,"d":0.00579},{"r":20.02,"d":0.00541},{"r":20.05,"d":0.00612},{"r":20.09,"d":0.00571},{"r":20.13,"d":0.00594},{"r":20.16,"d":0.00552},{"r":20.20,"d":0.00583},{"r":20.24,"d":0.00608},{"r":20.27,"d":0.00566},{"r":20.31,"d":0.00543},{"r":20.34,"d":0.00627},{"r":20.38,"d":0.00579},{"r":20.41,"d":0.00613},{"r":20.45,"d":0.00551},{"r":20.48,"d":0.00597},{"r":20.52,"d":0.00633},{"r":20.55,"d":0.00582},{"r":20.58,"d":0.00548},{"r":20.62,"d":0.00604},{"r":20.65,"d":0.00573},{"r":20.69,"d":0.00621},{"r":20.72,"d":0.00592},{"r":20.75,"d":0.00538},{"r":20.79,"d":0.00646},{"r":20.82,"d":0.00577},{"r":20.86,"d":0.00606},{"r":20.89,"d":0.00563},{"r":20.93,"d":0.00589},{"r":20.96,"d":0.00534},{"r":20.99,"d":0.00618},{"r":21.03,"d":0.00552},{"r":21.07,"d":0.00597},{"r":21.12,"d":0.00531},{"r":21.18,"d":0.00574},{"r":21.24,"d":0.00608}
]},
"layer":[
{"data":{"name":"pts"},
 "mark":{"type":"point","shape":"square","filled":true,"size":11,"color":"black","opacity":1,"strokeWidth":0},
 "encoding":{
  "x":{"field":"r","type":"quantitative","scale":{"domain":[10,25.5],"nice":false,"zero":false},
   "axis":{"orient":"bottom","values":[10,12,14,16,18,20,22,24],"format":"d","tickSize":-14,"tickWidth":1.5,"tickColor":"black","domain":false,"grid":false,"labelFont":"DejaVu Sans","labelFontSize":25,"labelColor":"black","labelPadding":35.5,"labelFlush":false,"labelOverlap":false,"title":"r in mag","titleFont":"DejaVu Sans","titleFontSize":26,"titleFontWeight":"normal","titleColor":"black","titlePadding":7}},
  "y":{"field":"d","type":"quantitative","scale":{"domain":[0,0.02],"nice":false,"zero":false},
   "axis":{"orient":"left","values":[0,0.005,0.01,0.015,0.02],"format":".3f","tickSize":-20,"tickWidth":1.5,"tickColor":"black","domain":false,"grid":false,"labelFont":"DejaVu Sans","labelFontSize":24,"labelColor":"black","labelPadding":32,"labelFlush":true,"labelOffset":2,"labelOverlap":false,"title":"Δμᵣₐ in arcsec/yr","titleFont":"DejaVu Sans","titleFontSize":29,"titleFontWeight":"normal","titleColor":"black","titlePadding":22}}
 }},
{"data":{"name":"anchor"},"mark":{"type":"point","opacity":0},
 "encoding":{
  "x":{"field":"r","type":"quantitative","scale":{"domain":[10,25.5],"nice":false,"zero":false},
   "axis":{"orient":"bottom","values":[10.5,11,11.5,12.5,13,13.5,14.5,15,15.5,16.5,17,17.5,18.5,19,19.5,20.5,21,21.5,22.5,23,23.5,24.5,25],"tickSize":-7,"tickWidth":1.5,"tickColor":"black","domain":false,"grid":false,"labels":false,"title":null}},
  "y":{"field":"d","type":"quantitative","scale":{"domain":[0,0.02],"nice":false,"zero":false},
   "axis":{"orient":"left","values":[0.001,0.002,0.003,0.004,0.006,0.007,0.008,0.009,0.011,0.012,0.013,0.014,0.016,0.017,0.018,0.019],"tickSize":-10,"tickWidth":1.5,"tickColor":"black","domain":false,"grid":false,"labels":false,"title":null}}
 }},
{"data":{"name":"anchor"},"mark":{"type":"point","opacity":0},
 "encoding":{
  "x":{"field":"r","type":"quantitative","scale":{"domain":[10,25.5],"nice":false,"zero":false},
   "axis":{"orient":"top","values":[10,12,14,16,18,20,22,24],"tickSize":-14,"tickWidth":1.5,"tickColor":"black","domain":false,"grid":false,"labels":false,"title":null}},
  "y":{"field":"d","type":"quantitative","scale":{"domain":[0,0.02],"nice":false,"zero":false},
   "axis":{"orient":"right","values":[0,0.005,0.01,0.015,0.02],"tickSize":-20,"tickWidth":1.5,"tickColor":"black","domain":false,"grid":false,"labels":false,"title":null}}
 }},
{"data":{"name":"anchor"},"mark":{"type":"point","opacity":0},
 "encoding":{
  "x":{"field":"r","type":"quantitative","scale":{"domain":[10,25.5],"nice":false,"zero":false},
   "axis":{"orient":"top","values":[10.5,11,11.5,12.5,13,13.5,14.5,15,15.5,16.5,17,17.5,18.5,19,19.5,20.5,21,21.5,22.5,23,23.5,24.5,25],"tickSize":-7,"tickWidth":1.5,"tickColor":"black","domain":false,"grid":false,"labels":false,"title":null}},
  "y":{"field":"d","type":"quantitative","scale":{"domain":[0,0.02],"nice":false,"zero":false},
   "axis":{"orient":"right","values":[0.001,0.002,0.003,0.004,0.006,0.007,0.008,0.009,0.011,0.012,0.013,0.014,0.016,0.017,0.018,0.019],"tickSize":-10,"tickWidth":1.5,"tickColor":"black","domain":false,"grid":false,"labels":false,"title":null}}
 }},
{"data":{"name":"anchor"},
 "mark":{"type":"text","text":["Total number of Objects: 12525","Object Type > 5.9","N_POS_EPOCHS = N_POS_EPOCHS_CLIP","Number of Epochs: between 19 & 48"],"align":"left","baseline":"alphabetic","font":"DejaVu Sans","fontSize":21.5,"lineHeight":35.5,"color":"black"},
 "encoding":{
  "x":{"datum":10.49,"type":"quantitative","axis":null},
  "y":{"datum":0.01901,"type":"quantitative","axis":null}
 }}
],
"resolve":{"axis":{"x":"independent","y":"independent"}}
}
